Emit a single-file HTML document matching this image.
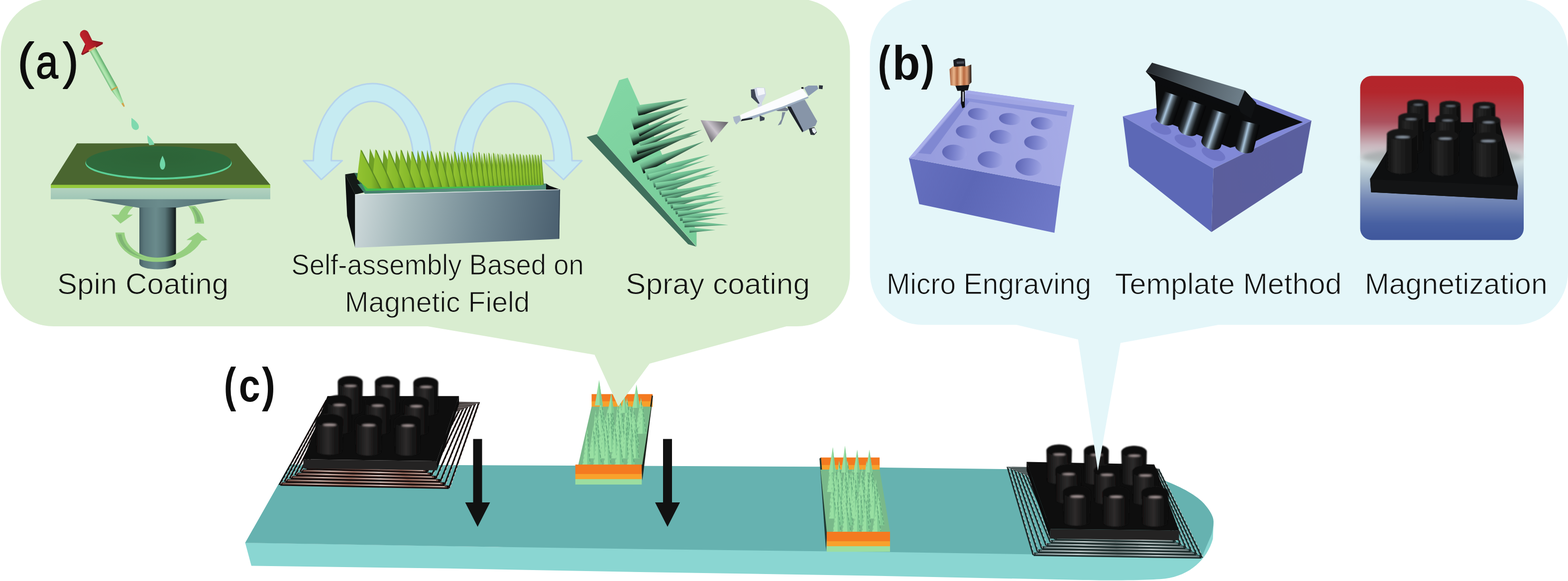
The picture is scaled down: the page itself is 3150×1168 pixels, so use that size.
<!DOCTYPE html>
<html lang="en"><head><meta charset="utf-8"><title>Figure</title>
<style>
html,body{margin:0;padding:0;background:#fff;}
body{width:3150px;height:1168px;overflow:hidden;}
svg{display:block;}
text{font-family:"Liberation Sans",sans-serif;}
</style></head><body>
<svg width="3150" height="1168" viewBox="0 0 3150 1168">
<defs>
<linearGradient id="cpg" x1="0" x2="1" y1="0" y2="0">
<stop offset="0" stop-color="#0c0c0c"/><stop offset="0.2" stop-color="#1d1c1c"/><stop offset="0.45" stop-color="#2e2c2c"/><stop offset="0.7" stop-color="#181717"/><stop offset="1" stop-color="#0a0a0a"/></linearGradient>
<linearGradient id="coilha" x1="0" x2="1" y1="0" y2="0">
<stop offset="0" stop-color="#7a5a50"/><stop offset="0.2" stop-color="#e8d8d0"/><stop offset="0.4" stop-color="#a87868"/><stop offset="0.6" stop-color="#f4ece8"/><stop offset="0.8" stop-color="#9a6a5a"/><stop offset="1" stop-color="#d8c8c0"/></linearGradient>
<linearGradient id="coilhb" x1="0" x2="1" y1="0" y2="0">
<stop offset="0" stop-color="#8a9a9a"/><stop offset="0.25" stop-color="#e8eeee"/><stop offset="0.5" stop-color="#6a7070"/><stop offset="0.75" stop-color="#dde4e4"/><stop offset="1" stop-color="#808a8a"/></linearGradient>
<linearGradient id="colg" x1="0" x2="1" y1="0" y2="0">
<stop offset="0" stop-color="#465e63"/><stop offset="0.12" stop-color="#5a777b"/><stop offset="0.45" stop-color="#6a8b8c"/><stop offset="0.7" stop-color="#587578"/><stop offset="0.9" stop-color="#2a3a3c"/><stop offset="1" stop-color="#0f1616"/></linearGradient>
<linearGradient id="coneg" x1="0" x2="1" y1="0" y2="0">
<stop offset="0" stop-color="#4d676b"/><stop offset="0.5" stop-color="#6a8b8c"/><stop offset="0.8" stop-color="#5a787b"/><stop offset="1" stop-color="#3d5357"/></linearGradient>
<linearGradient id="slabg" x1="0" x2="0" y1="0" y2="1">
<stop offset="0" stop-color="#b4d2c0"/><stop offset="1" stop-color="#9fc6b6"/></linearGradient>
<linearGradient id="tubeg" x1="0" x2="1" y1="0" y2="0">
<stop offset="0" stop-color="#6fb87a"/><stop offset="0.3" stop-color="#b6e8b4"/><stop offset="0.6" stop-color="#9edc9f"/><stop offset="1" stop-color="#5da96a"/></linearGradient>
<linearGradient id="bulbg" x1="0" x2="1" y1="0" y2="0">
<stop offset="0" stop-color="#c8252f"/><stop offset="0.5" stop-color="#b81f28"/><stop offset="1" stop-color="#8c1820"/></linearGradient>
<radialGradient id="discg" cx="0.5" cy="0.35" r="0.7">
<stop offset="0" stop-color="#2d6337"/><stop offset="1" stop-color="#2f6a3c"/></radialGradient>
<linearGradient id="boxf" gradientUnits="userSpaceOnUse" x1="713" y1="400" x2="1125" y2="470">
<stop offset="0" stop-color="#cfdadb"/><stop offset="0.25" stop-color="#a3b7ba"/><stop offset="0.6" stop-color="#748b95"/><stop offset="1" stop-color="#4a5f6f"/></linearGradient>
<linearGradient id="rimg" gradientUnits="userSpaceOnUse" x1="713" y1="0" x2="1125" y2="0">
<stop offset="0" stop-color="#3f7d68"/><stop offset="0.5" stop-color="#5a8f7f"/><stop offset="1" stop-color="#4f8f7a"/></linearGradient>
<linearGradient id="grassg" x1="0" x2="1" y1="0" y2="0">
<stop offset="0" stop-color="#93c332"/><stop offset="0.6" stop-color="#86b92a"/><stop offset="1" stop-color="#5f8f22"/></linearGradient>
<linearGradient id="coneU" x1="0" x2="0" y1="0" y2="1">
<stop offset="0" stop-color="#86d8a6"/><stop offset="0.45" stop-color="#63a781"/><stop offset="0.8" stop-color="#1a2d24"/><stop offset="1" stop-color="#050807"/></linearGradient>
<linearGradient id="coneL" x1="0" x2="0" y1="0" y2="1">
<stop offset="0" stop-color="#8adcaa"/><stop offset="0.5" stop-color="#6fbd91"/><stop offset="1" stop-color="#2f5946"/></linearGradient>
<linearGradient id="gcone" gradientUnits="userSpaceOnUse" x1="1412" y1="270" x2="1452" y2="238">
<stop offset="0" stop-color="#5e5c62"/><stop offset="0.45" stop-color="#c9c3cb"/><stop offset="0.75" stop-color="#8d8990"/><stop offset="1" stop-color="#6b686e"/></linearGradient>
<linearGradient id="plateg" gradientUnits="userSpaceOnUse" x1="1200" y1="200" x2="1400" y2="480">
<stop offset="0" stop-color="#82d6a4"/><stop offset="1" stop-color="#78cc99"/></linearGradient>
<linearGradient id="pfront" gradientUnits="userSpaceOnUse" x1="1830" y1="330" x2="2120" y2="460">
<stop offset="0" stop-color="#6670bf"/><stop offset="0.4" stop-color="#5c67b6"/><stop offset="1" stop-color="#6f79c8"/></linearGradient>
<linearGradient id="ptop" gradientUnits="userSpaceOnUse" x1="1850" y1="300" x2="2150" y2="250">
<stop offset="0" stop-color="#969cdd"/><stop offset="1" stop-color="#a6abe6"/></linearGradient>
<linearGradient id="hole" x1="0" x2="1" y1="0" y2="0">
<stop offset="0" stop-color="#5d65b4"/><stop offset="0.5" stop-color="#7b83cd"/><stop offset="1" stop-color="#9fa5e3"/></linearGradient>
<linearGradient id="copper" x1="0" x2="1" y1="0" y2="0">
<stop offset="0" stop-color="#a8623f"/><stop offset="0.2" stop-color="#e9b48a"/><stop offset="0.35" stop-color="#b5683f"/><stop offset="0.5" stop-color="#f0c59c"/><stop offset="0.65" stop-color="#b8693f"/><stop offset="0.8" stop-color="#d99a72"/><stop offset="1" stop-color="#1a1210"/></linearGradient>
<filter id="b2" x="-30%" y="-60%" width="160%" height="220%"><feGaussianBlur stdDeviation="1.6"/></filter>
<filter id="b0" x="-5%" y="-5%" width="110%" height="110%"><feGaussianBlur stdDeviation="0.6"/></filter>
<filter id="b1" x="-10%" y="-10%" width="120%" height="120%"><feGaussianBlur stdDeviation="0.9"/></filter>
<linearGradient id="pilg" x1="0" x2="1" y1="0" y2="0">
<stop offset="0" stop-color="#0d0d0d"/><stop offset="0.3" stop-color="#262626"/><stop offset="0.55" stop-color="#1c1c1c"/><stop offset="1" stop-color="#0a0a0a"/></linearGradient>
<linearGradient id="lidg" gradientUnits="userSpaceOnUse" x1="2305" y1="140" x2="2500" y2="190">
<stop offset="0" stop-color="#23272b"/><stop offset="0.45" stop-color="#4d5860"/><stop offset="1" stop-color="#6f808b"/></linearGradient>
<linearGradient id="cylg" x1="0" x2="1" y1="0" y2="0">
<stop offset="0" stop-color="#0a0b0c"/><stop offset="0.25" stop-color="#3a434b"/><stop offset="0.42" stop-color="#a8c4dc"/><stop offset="0.55" stop-color="#5a6872"/><stop offset="0.75" stop-color="#15181a"/><stop offset="1" stop-color="#050506"/></linearGradient>
<linearGradient id="tright" gradientUnits="userSpaceOnUse" x1="2440" y1="340" x2="2630" y2="300">
<stop offset="0" stop-color="#5b5e9c"/><stop offset="1" stop-color="#5a5f9f"/></linearGradient>
<linearGradient id="magbg" x1="0" x2="0" y1="0" y2="1">
<stop offset="0" stop-color="#b4242a"/><stop offset="0.1" stop-color="#b3262c"/><stop offset="0.28" stop-color="#ab505d"/><stop offset="0.42" stop-color="#c9b4bb"/><stop offset="0.52" stop-color="#d3e0e2"/><stop offset="0.62" stop-color="#a9bccb"/><stop offset="0.75" stop-color="#7488b6"/><stop offset="0.9" stop-color="#4760a2"/><stop offset="1" stop-color="#3f579c"/></linearGradient>
<filter id="b3" x="-20%" y="-50%" width="140%" height="200%"><feGaussianBlur stdDeviation="4"/></filter>
</defs>
<rect width="3150" height="1168" fill="#ffffff"/>
<path fill="#8ad6d2" d="M492.5,1091 L505,1137.4 L900,1142.8 L1300,1150.2 L1740,1157.2 L2150,1165.5 C2250,1167.5 2310,1166.5 2341,1163.3 C2390,1157 2425,1125 2436.6,1083.3 L2438,1047.5 L2300,1045 L1000,1099.6 L492.5,1091 Z"/>
<path fill="#66b2b0" d="M582,933.5 L1650,938.2 L2200,945.5 C2260,948 2310,955 2345.8,968.7 C2380,982 2410,1000 2422.2,1016.4 C2432,1028 2438,1040 2437.8,1047.5 C2438,1058 2436,1066 2434.2,1073.7 L2419.9,1107.2 L2413.9,1121.5 L2150,1115.5 L1740,1109.2 L1300,1104 L900,1098 L492.5,1091.2 Z"/>
<path fill="#111" d="M950.5,882.5 H968.5 V1010 H984.5 L959.5,1059 L934.5,1010 H950.5 Z"/>
<path fill="#111" d="M1332,882.5 H1350 V1010 H1366 L1341,1059 L1316,1010 H1332 Z"/>
<g filter="url(#b0)"><polygon points="562.2,973.0 902.5,979.5 961.9,810.1 655.2,805.4" fill="none" stroke="#15100f" stroke-width="3.4" stroke-linejoin="miter"/><polygon points="572.7,966.5 893.9,973.0 954.0,813.2 658.2,808.5" fill="none" stroke="#15100f" stroke-width="3.4" stroke-linejoin="miter"/><polygon points="583.2,960.0 885.3,966.5 946.1,816.3 661.2,811.6" fill="none" stroke="#15100f" stroke-width="3.4" stroke-linejoin="miter"/><polygon points="593.7,953.5 876.7,960.0 938.2,819.4 664.2,814.7" fill="none" stroke="#15100f" stroke-width="3.4" stroke-linejoin="miter"/><polygon points="604.2,947.0 868.1,953.5 930.3,822.5 667.2,817.8" fill="none" stroke="#15100f" stroke-width="3.4" stroke-linejoin="miter"/><polygon points="614.7,940.5 859.5,947.0 922.4,825.6 670.2,820.9" fill="none" stroke="#15100f" stroke-width="3.4" stroke-linejoin="miter"/><line x1="563.2" y1="973.0" x2="901.5" y2="979.5" stroke="#15100f" stroke-width="7"/><line x1="567.2" y1="972.2" x2="897.5" y2="978.7" stroke="#6e4a42" stroke-width="3.4"/><line x1="571.2" y1="971.8" x2="893.5" y2="978.3" stroke="url(#coilha)" stroke-width="1.7"/><line x1="904.4" y1="979.5" x2="963.8" y2="810.1" stroke="#f0e4e0" stroke-width="1.2" stroke-dasharray="5 4" opacity="0.8"/><line x1="564.1" y1="973.0" x2="657.1" y2="805.4" stroke="#f0e4e0" stroke-width="1.2" stroke-dasharray="5 4" opacity="0.8"/><line x1="655.2" y1="805.7" x2="961.9" y2="810.4" stroke="#f0e4e0" stroke-width="1.0" opacity="0.8"/><line x1="573.7" y1="966.5" x2="892.9" y2="973.0" stroke="#15100f" stroke-width="7"/><line x1="577.7" y1="965.7" x2="888.9" y2="972.2" stroke="#6e4a42" stroke-width="3.4"/><line x1="581.7" y1="965.3" x2="884.9" y2="971.8" stroke="url(#coilha)" stroke-width="1.7"/><line x1="895.8" y1="973.0" x2="955.9" y2="813.2" stroke="#f0e4e0" stroke-width="1.2" stroke-dasharray="5 4" opacity="0.8"/><line x1="574.6" y1="966.5" x2="660.1" y2="808.5" stroke="#f0e4e0" stroke-width="1.2" stroke-dasharray="5 4" opacity="0.8"/><line x1="658.2" y1="808.8" x2="954.0" y2="813.5" stroke="#f0e4e0" stroke-width="1.0" opacity="0.8"/><line x1="584.2" y1="960.0" x2="884.3" y2="966.5" stroke="#15100f" stroke-width="7"/><line x1="588.2" y1="959.2" x2="880.3" y2="965.7" stroke="#6e4a42" stroke-width="3.4"/><line x1="592.2" y1="958.8" x2="876.3" y2="965.3" stroke="url(#coilha)" stroke-width="1.7"/><line x1="887.2" y1="966.5" x2="948.0" y2="816.3" stroke="#f0e4e0" stroke-width="1.2" stroke-dasharray="5 4" opacity="0.8"/><line x1="585.1" y1="960.0" x2="663.1" y2="811.6" stroke="#f0e4e0" stroke-width="1.2" stroke-dasharray="5 4" opacity="0.8"/><line x1="661.2" y1="811.9" x2="946.1" y2="816.6" stroke="#f0e4e0" stroke-width="1.0" opacity="0.8"/><line x1="594.7" y1="953.5" x2="875.7" y2="960.0" stroke="#15100f" stroke-width="7"/><line x1="598.7" y1="952.7" x2="871.7" y2="959.2" stroke="#6e4a42" stroke-width="3.4"/><line x1="602.7" y1="952.3" x2="867.7" y2="958.8" stroke="url(#coilha)" stroke-width="1.7"/><line x1="878.6" y1="960.0" x2="940.1" y2="819.4" stroke="#f0e4e0" stroke-width="1.2" stroke-dasharray="5 4" opacity="0.8"/><line x1="595.6" y1="953.5" x2="666.1" y2="814.7" stroke="#f0e4e0" stroke-width="1.2" stroke-dasharray="5 4" opacity="0.8"/><line x1="664.2" y1="815.0" x2="938.2" y2="819.7" stroke="#f0e4e0" stroke-width="1.0" opacity="0.8"/><line x1="605.2" y1="947.0" x2="867.1" y2="953.5" stroke="#15100f" stroke-width="7"/><line x1="609.2" y1="946.2" x2="863.1" y2="952.7" stroke="#6e4a42" stroke-width="3.4"/><line x1="613.2" y1="945.8" x2="859.1" y2="952.3" stroke="url(#coilha)" stroke-width="1.7"/><line x1="870.0" y1="953.5" x2="932.2" y2="822.5" stroke="#f0e4e0" stroke-width="1.2" stroke-dasharray="5 4" opacity="0.8"/><line x1="606.1" y1="947.0" x2="669.1" y2="817.8" stroke="#f0e4e0" stroke-width="1.2" stroke-dasharray="5 4" opacity="0.8"/><line x1="667.2" y1="818.1" x2="930.3" y2="822.8" stroke="#f0e4e0" stroke-width="1.0" opacity="0.8"/><line x1="615.7" y1="940.5" x2="858.5" y2="947.0" stroke="#15100f" stroke-width="7"/><line x1="619.7" y1="939.7" x2="854.5" y2="946.2" stroke="#6e4a42" stroke-width="3.4"/><line x1="623.7" y1="939.3" x2="850.5" y2="945.8" stroke="url(#coilha)" stroke-width="1.7"/><line x1="861.4" y1="947.0" x2="924.3" y2="825.6" stroke="#f0e4e0" stroke-width="1.2" stroke-dasharray="5 4" opacity="0.8"/><line x1="616.6" y1="940.5" x2="672.1" y2="820.9" stroke="#f0e4e0" stroke-width="1.2" stroke-dasharray="5 4" opacity="0.8"/><line x1="670.2" y1="821.2" x2="922.4" y2="825.9" stroke="#f0e4e0" stroke-width="1.0" opacity="0.8"/></g>
<polygon points="609.4,923.2 877.7,927.1 922.1,796.3 657.8,796.3" fill="#0e0e0e" />
<polygon points="609.4,923.2 877.7,927.1 877.7,945.4 609.4,941.5" fill="#242323" />
<polygon points="877.7,927.1 922.1,796.3 922.1,812.7 877.7,945.4" fill="#0b0b0b" />
<g filter="url(#b1)">
<path d="M678.5,767.5 A25.1 11.8 0 0 1 728.7,767.5 L727.7,826.4 A24.1 6.5 0 0 1 679.5,826.4 Z" fill="url(#cpg)"/><ellipse cx="703.6" cy="767.5" rx="24.4" ry="11.2" fill="#101010"/><ellipse cx="704.1" cy="775.8" rx="12.6" ry="2.1" fill="#b5a5a5" filter="url(#b2)"/>
<path d="M753.1,768.0 A25.1 11.8 0 0 1 803.3,768.0 L802.3,827.7 A24.1 6.5 0 0 1 754.1,827.7 Z" fill="url(#cpg)"/><ellipse cx="778.2" cy="768.0" rx="24.4" ry="11.2" fill="#101010"/><ellipse cx="778.7" cy="776.3" rx="12.6" ry="2.1" fill="#b5a5a5" filter="url(#b2)"/>
<path d="M830.3,769.6 A25.1 11.8 0 0 1 880.5,769.6 L879.5,829.0 A24.1 6.5 0 0 1 831.3,829.0 Z" fill="url(#cpg)"/><ellipse cx="855.4" cy="769.6" rx="24.4" ry="11.2" fill="#101010"/><ellipse cx="855.9" cy="777.9" rx="12.6" ry="2.1" fill="#b5a5a5" filter="url(#b2)"/>
<path d="M655.7,805.7 A25.7 12.1 0 0 1 707.0,805.7 L705.9,865.6 A24.6 6.6 0 0 1 656.7,865.6 Z" fill="url(#cpg)"/><ellipse cx="681.3" cy="805.7" rx="24.9" ry="11.5" fill="#101010"/><ellipse cx="681.9" cy="814.2" rx="12.8" ry="2.2" fill="#b5a5a5" filter="url(#b2)"/>
<path d="M732.9,807.0 A25.7 12.1 0 0 1 784.2,807.0 L783.2,866.9 A24.6 6.6 0 0 1 734.0,866.9 Z" fill="url(#cpg)"/><ellipse cx="758.6" cy="807.0" rx="24.9" ry="11.5" fill="#101010"/><ellipse cx="759.1" cy="815.5" rx="12.8" ry="2.2" fill="#b5a5a5" filter="url(#b2)"/>
<path d="M810.1,808.3 A25.7 12.1 0 0 1 861.4,808.3 L860.4,868.3 A24.6 6.6 0 0 1 811.2,868.3 Z" fill="url(#cpg)"/><ellipse cx="835.8" cy="808.3" rx="24.9" ry="11.5" fill="#101010"/><ellipse cx="836.3" cy="816.8" rx="12.8" ry="2.2" fill="#b5a5a5" filter="url(#b2)"/>
<path d="M633.4,844.9 A28.3 13.3 0 0 1 690.0,844.9 L687.4,907.5 A25.7 7.3 0 0 1 636.1,907.5 Z" fill="url(#cpg)"/><ellipse cx="661.7" cy="844.9" rx="27.4" ry="12.6" fill="#101010"/><ellipse cx="662.3" cy="854.2" rx="14.1" ry="2.4" fill="#b5a5a5" filter="url(#b2)"/>
<path d="M712.8,845.8 A27.5 12.9 0 0 1 767.7,845.8 L765.4,908.8 A25.1 7.1 0 0 1 715.1,908.8 Z" fill="url(#cpg)"/><ellipse cx="740.2" cy="845.8" rx="26.7" ry="12.3" fill="#101010"/><ellipse cx="740.8" cy="854.9" rx="13.7" ry="2.3" fill="#b5a5a5" filter="url(#b2)"/>
<path d="M792.1,846.8 A26.7 12.5 0 0 1 845.5,846.8 L843.6,909.6 A24.9 6.9 0 0 1 793.9,909.6 Z" fill="url(#cpg)"/><ellipse cx="818.8" cy="846.8" rx="25.9" ry="11.9" fill="#101010"/><ellipse cx="819.3" cy="855.6" rx="13.3" ry="2.3" fill="#b5a5a5" filter="url(#b2)"/>
</g>
<g filter="url(#b0)"><polygon points="2075.4,1114.3 2414.4,1119.5 2328.0,944.1 2024.4,940.2" fill="none" stroke="#1c2a2a" stroke-width="3.4" stroke-linejoin="miter"/><polygon points="2084.0,1108.0 2403.7,1113.2 2325.0,947.2 2031.9,943.3" fill="none" stroke="#1c2a2a" stroke-width="3.4" stroke-linejoin="miter"/><polygon points="2092.6,1101.7 2393.0,1106.9 2322.0,950.3 2039.4,946.4" fill="none" stroke="#1c2a2a" stroke-width="3.4" stroke-linejoin="miter"/><polygon points="2101.2,1095.4 2382.3,1100.6 2319.0,953.4 2046.9,949.5" fill="none" stroke="#1c2a2a" stroke-width="3.4" stroke-linejoin="miter"/><polygon points="2109.8,1089.1 2371.6,1094.3 2316.0,956.5 2054.4,952.6" fill="none" stroke="#1c2a2a" stroke-width="3.4" stroke-linejoin="miter"/><polygon points="2118.4,1082.8 2360.9,1088.0 2313.0,959.6 2061.9,955.7" fill="none" stroke="#1c2a2a" stroke-width="3.4" stroke-linejoin="miter"/><line x1="2076.4" y1="1114.3" x2="2413.4" y2="1119.5" stroke="#1c2a2a" stroke-width="7"/><line x1="2080.4" y1="1113.5" x2="2409.4" y2="1118.7" stroke="#5f7474" stroke-width="3.4"/><line x1="2084.4" y1="1113.1" x2="2405.4" y2="1118.3" stroke="url(#coilhb)" stroke-width="1.7"/><line x1="2416.3" y1="1119.5" x2="2329.9" y2="944.1" stroke="#e4ecec" stroke-width="1.2" stroke-dasharray="5 4" opacity="0.8"/><line x1="2077.3" y1="1114.3" x2="2026.3" y2="940.2" stroke="#e4ecec" stroke-width="1.2" stroke-dasharray="5 4" opacity="0.8"/><line x1="2024.4" y1="940.5" x2="2328.0" y2="944.4" stroke="#e4ecec" stroke-width="1.0" opacity="0.8"/><line x1="2085.0" y1="1108.0" x2="2402.7" y2="1113.2" stroke="#1c2a2a" stroke-width="7"/><line x1="2089.0" y1="1107.2" x2="2398.7" y2="1112.4" stroke="#5f7474" stroke-width="3.4"/><line x1="2093.0" y1="1106.8" x2="2394.7" y2="1112.0" stroke="url(#coilhb)" stroke-width="1.7"/><line x1="2405.6" y1="1113.2" x2="2326.9" y2="947.2" stroke="#e4ecec" stroke-width="1.2" stroke-dasharray="5 4" opacity="0.8"/><line x1="2085.9" y1="1108.0" x2="2033.8" y2="943.3" stroke="#e4ecec" stroke-width="1.2" stroke-dasharray="5 4" opacity="0.8"/><line x1="2031.9" y1="943.6" x2="2325.0" y2="947.5" stroke="#e4ecec" stroke-width="1.0" opacity="0.8"/><line x1="2093.6" y1="1101.7" x2="2392.0" y2="1106.9" stroke="#1c2a2a" stroke-width="7"/><line x1="2097.6" y1="1100.9" x2="2388.0" y2="1106.1" stroke="#5f7474" stroke-width="3.4"/><line x1="2101.6" y1="1100.5" x2="2384.0" y2="1105.7" stroke="url(#coilhb)" stroke-width="1.7"/><line x1="2394.9" y1="1106.9" x2="2323.9" y2="950.3" stroke="#e4ecec" stroke-width="1.2" stroke-dasharray="5 4" opacity="0.8"/><line x1="2094.5" y1="1101.7" x2="2041.3" y2="946.4" stroke="#e4ecec" stroke-width="1.2" stroke-dasharray="5 4" opacity="0.8"/><line x1="2039.4" y1="946.7" x2="2322.0" y2="950.6" stroke="#e4ecec" stroke-width="1.0" opacity="0.8"/><line x1="2102.2" y1="1095.4" x2="2381.3" y2="1100.6" stroke="#1c2a2a" stroke-width="7"/><line x1="2106.2" y1="1094.6" x2="2377.3" y2="1099.8" stroke="#5f7474" stroke-width="3.4"/><line x1="2110.2" y1="1094.2" x2="2373.3" y2="1099.4" stroke="url(#coilhb)" stroke-width="1.7"/><line x1="2384.2" y1="1100.6" x2="2320.9" y2="953.4" stroke="#e4ecec" stroke-width="1.2" stroke-dasharray="5 4" opacity="0.8"/><line x1="2103.1" y1="1095.4" x2="2048.8" y2="949.5" stroke="#e4ecec" stroke-width="1.2" stroke-dasharray="5 4" opacity="0.8"/><line x1="2046.9" y1="949.8" x2="2319.0" y2="953.7" stroke="#e4ecec" stroke-width="1.0" opacity="0.8"/><line x1="2110.8" y1="1089.1" x2="2370.6" y2="1094.3" stroke="#1c2a2a" stroke-width="7"/><line x1="2114.8" y1="1088.3" x2="2366.6" y2="1093.5" stroke="#5f7474" stroke-width="3.4"/><line x1="2118.8" y1="1087.9" x2="2362.6" y2="1093.1" stroke="url(#coilhb)" stroke-width="1.7"/><line x1="2373.5" y1="1094.3" x2="2317.9" y2="956.5" stroke="#e4ecec" stroke-width="1.2" stroke-dasharray="5 4" opacity="0.8"/><line x1="2111.7" y1="1089.1" x2="2056.3" y2="952.6" stroke="#e4ecec" stroke-width="1.2" stroke-dasharray="5 4" opacity="0.8"/><line x1="2054.4" y1="952.9" x2="2316.0" y2="956.8" stroke="#e4ecec" stroke-width="1.0" opacity="0.8"/><line x1="2119.4" y1="1082.8" x2="2359.9" y2="1088.0" stroke="#1c2a2a" stroke-width="7"/><line x1="2123.4" y1="1082.0" x2="2355.9" y2="1087.2" stroke="#5f7474" stroke-width="3.4"/><line x1="2127.4" y1="1081.6" x2="2351.9" y2="1086.8" stroke="url(#coilhb)" stroke-width="1.7"/><line x1="2362.8" y1="1088.0" x2="2314.9" y2="959.6" stroke="#e4ecec" stroke-width="1.2" stroke-dasharray="5 4" opacity="0.8"/><line x1="2120.3" y1="1082.8" x2="2063.8" y2="955.7" stroke="#e4ecec" stroke-width="1.2" stroke-dasharray="5 4" opacity="0.8"/><line x1="2061.9" y1="956.0" x2="2313.0" y2="959.9" stroke="#e4ecec" stroke-width="1.0" opacity="0.8"/></g>
<polygon points="2109.5,1063.2 2368.6,1066.4 2318.9,933.7 2062.3,928.4" fill="#0e0e0e" />
<polygon points="2109.5,1063.2 2368.6,1066.4 2368.6,1085.9 2109.5,1082.7" fill="#242323" />
<polygon points="2109.5,1063.2 2062.3,928.4 2062.3,946.0 2109.5,1082.7" fill="#0b0b0b" />
<g filter="url(#b1)">
<path d="M2102.1,905.1 A25.7 12.1 0 0 1 2153.4,905.1 L2151.9,966.4 A24.1 6.6 0 0 1 2103.7,966.4 Z" fill="url(#cpg)"/><ellipse cx="2127.8" cy="905.1" rx="24.9" ry="11.5" fill="#101010"/><ellipse cx="2128.3" cy="913.6" rx="12.8" ry="2.2" fill="#b5a5a5" filter="url(#b2)"/>
<path d="M2177.3,906.2 A25.1 11.8 0 0 1 2227.5,906.2 L2226.5,967.7 A24.1 6.5 0 0 1 2178.3,967.7 Z" fill="url(#cpg)"/><ellipse cx="2202.4" cy="906.2" rx="24.4" ry="11.2" fill="#101010"/><ellipse cx="2202.9" cy="914.5" rx="12.6" ry="2.1" fill="#b5a5a5" filter="url(#b2)"/>
<path d="M2252.6,907.8 A25.7 12.1 0 0 1 2303.9,907.8 L2302.4,969.0 A24.1 6.6 0 0 1 2254.2,969.0 Z" fill="url(#cpg)"/><ellipse cx="2278.3" cy="907.8" rx="24.9" ry="11.5" fill="#101010"/><ellipse cx="2278.8" cy="916.2" rx="12.8" ry="2.2" fill="#b5a5a5" filter="url(#b2)"/>
<path d="M2119.9,944.7 A26.2 12.3 0 0 1 2172.3,944.7 L2170.7,1005.6 A24.6 6.8 0 0 1 2121.5,1005.6 Z" fill="url(#cpg)"/><ellipse cx="2146.1" cy="944.7" rx="25.4" ry="11.7" fill="#101010"/><ellipse cx="2146.6" cy="953.3" rx="13.1" ry="2.2" fill="#b5a5a5" filter="url(#b2)"/>
<path d="M2197.1,946.0 A26.2 12.3 0 0 1 2249.5,946.0 L2247.9,1006.9 A24.6 6.8 0 0 1 2198.7,1006.9 Z" fill="url(#cpg)"/><ellipse cx="2223.3" cy="946.0" rx="25.4" ry="11.7" fill="#101010"/><ellipse cx="2223.8" cy="954.6" rx="13.1" ry="2.2" fill="#b5a5a5" filter="url(#b2)"/>
<path d="M2274.4,947.3 A26.2 12.3 0 0 1 2326.7,947.3 L2325.1,1008.3 A24.6 6.8 0 0 1 2275.9,1008.3 Z" fill="url(#cpg)"/><ellipse cx="2300.5" cy="947.3" rx="25.4" ry="11.7" fill="#101010"/><ellipse cx="2301.1" cy="955.9" rx="13.1" ry="2.2" fill="#b5a5a5" filter="url(#b2)"/>
<path d="M2134.9,988.8 A28.3 13.3 0 0 1 2191.4,988.8 L2188.8,1050.1 A25.7 7.3 0 0 1 2137.5,1050.1 Z" fill="url(#cpg)"/><ellipse cx="2163.1" cy="988.8" rx="27.4" ry="12.6" fill="#101010"/><ellipse cx="2163.7" cy="998.2" rx="14.1" ry="2.4" fill="#b5a5a5" filter="url(#b2)"/>
<path d="M2214.2,989.8 A27.5 12.9 0 0 1 2269.1,989.8 L2266.8,1051.4 A25.1 7.1 0 0 1 2216.5,1051.4 Z" fill="url(#cpg)"/><ellipse cx="2241.6" cy="989.8" rx="26.7" ry="12.3" fill="#101010"/><ellipse cx="2242.2" cy="998.8" rx="13.7" ry="2.3" fill="#b5a5a5" filter="url(#b2)"/>
<path d="M2292.7,990.3 A27.5 12.9 0 0 1 2347.7,990.3 L2345.3,1051.4 A25.1 7.1 0 0 1 2295.0,1051.4 Z" fill="url(#cpg)"/><ellipse cx="2320.2" cy="990.3" rx="26.7" ry="12.3" fill="#101010"/><ellipse cx="2320.7" cy="999.4" rx="13.7" ry="2.3" fill="#b5a5a5" filter="url(#b2)"/>
</g>
<rect x="1188.5" y="792.3" width="122.5" height="14.900000000000091" fill="#f47a20"/>
<rect x="1188.5" y="806.7" width="122.5" height="11.399999999999977" fill="#f8a12c"/>
<polygon points="1309.5,794.3 1311.8,796.3 1290.4,966.1 1288.2,933.9" fill="#1c241d" />
<polygon points="1188.5,817.6 1308.0,817.6 1290.2,933.9 1161.8,933.9" fill="#79b98a" />
<g><polygon points="1198.2,859.5 1207.9,799.6 1216.9,859.5" fill="#98dfa2" /><polygon points="1209.0,859.5 1207.9,799.6 1216.9,859.5" fill="#7fca92" /><line x1="1208.4" y1="808.6" x2="1216.0" y2="858.5" stroke="#4a8a68" stroke-width="1.3" stroke-dasharray="6 4" opacity="0.7"/><line x1="1207.4" y1="817.6" x2="1199.1" y2="858.5" stroke="#5c9c78" stroke-width="1.0" stroke-dasharray="4 5" opacity="0.5"/><polygon points="1218.6,859.5 1227.3,799.6 1234.8,859.5" fill="#98dfa2" /><polygon points="1228.0,859.5 1227.3,799.6 1234.8,859.5" fill="#7fca92" /><line x1="1227.8" y1="808.6" x2="1234.0" y2="858.5" stroke="#4a8a68" stroke-width="1.3" stroke-dasharray="6 4" opacity="0.7"/><line x1="1226.8" y1="817.6" x2="1219.5" y2="858.5" stroke="#5c9c78" stroke-width="1.0" stroke-dasharray="4 5" opacity="0.5"/><polygon points="1238.5,859.5 1245.9,799.6 1254.3,859.5" fill="#98dfa2" /><polygon points="1247.7,859.5 1245.9,799.6 1254.3,859.5" fill="#7fca92" /><line x1="1246.4" y1="808.6" x2="1253.5" y2="858.5" stroke="#4a8a68" stroke-width="1.3" stroke-dasharray="6 4" opacity="0.7"/><line x1="1245.4" y1="817.6" x2="1239.3" y2="858.5" stroke="#5c9c78" stroke-width="1.0" stroke-dasharray="4 5" opacity="0.5"/><polygon points="1252.2,859.5 1259.3,799.6 1270.1,859.5" fill="#98dfa2" /><polygon points="1262.6,859.5 1259.3,799.6 1270.1,859.5" fill="#7fca92" /><line x1="1259.8" y1="808.6" x2="1269.2" y2="858.5" stroke="#4a8a68" stroke-width="1.3" stroke-dasharray="6 4" opacity="0.7"/><line x1="1258.8" y1="817.6" x2="1253.1" y2="858.5" stroke="#5c9c78" stroke-width="1.0" stroke-dasharray="4 5" opacity="0.5"/><polygon points="1277.7,859.5 1287.7,799.6 1295.5,859.5" fill="#98dfa2" /><polygon points="1288.0,859.5 1287.7,799.6 1295.5,859.5" fill="#7fca92" /><line x1="1288.2" y1="808.6" x2="1294.6" y2="858.5" stroke="#4a8a68" stroke-width="1.3" stroke-dasharray="6 4" opacity="0.7"/><line x1="1287.2" y1="817.6" x2="1278.6" y2="858.5" stroke="#5c9c78" stroke-width="1.0" stroke-dasharray="4 5" opacity="0.5"/><polygon points="1198.0,871.9 1205.0,815.8 1215.4,871.9" fill="#98dfa2" /><polygon points="1208.1,871.9 1205.0,815.8 1215.4,871.9" fill="#7fca92" /><line x1="1205.5" y1="824.2" x2="1214.5" y2="870.9" stroke="#4a8a68" stroke-width="1.3" stroke-dasharray="6 4" opacity="0.7"/><line x1="1204.5" y1="832.6" x2="1198.9" y2="870.9" stroke="#5c9c78" stroke-width="1.0" stroke-dasharray="4 5" opacity="0.5"/><polygon points="1218.2,871.9 1226.3,813.6 1233.8,871.9" fill="#98dfa2" /><polygon points="1227.2,871.9 1226.3,813.6 1233.8,871.9" fill="#7fca92" /><line x1="1226.8" y1="822.3" x2="1233.0" y2="870.9" stroke="#4a8a68" stroke-width="1.3" stroke-dasharray="6 4" opacity="0.7"/><line x1="1225.8" y1="831.1" x2="1219.0" y2="870.9" stroke="#5c9c78" stroke-width="1.0" stroke-dasharray="4 5" opacity="0.5"/><polygon points="1238.3,871.9 1248.1,813.6 1255.6,871.9" fill="#98dfa2" /><polygon points="1248.3,871.9 1248.1,813.6 1255.6,871.9" fill="#7fca92" /><line x1="1248.6" y1="822.3" x2="1254.7" y2="870.9" stroke="#4a8a68" stroke-width="1.3" stroke-dasharray="6 4" opacity="0.7"/><line x1="1247.6" y1="831.1" x2="1239.2" y2="870.9" stroke="#5c9c78" stroke-width="1.0" stroke-dasharray="4 5" opacity="0.5"/><polygon points="1257.9,871.9 1265.8,813.6 1275.0,871.9" fill="#98dfa2" /><polygon points="1267.8,871.9 1265.8,813.6 1275.0,871.9" fill="#7fca92" /><line x1="1266.3" y1="822.3" x2="1274.1" y2="870.9" stroke="#4a8a68" stroke-width="1.3" stroke-dasharray="6 4" opacity="0.7"/><line x1="1265.3" y1="831.1" x2="1258.8" y2="870.9" stroke="#5c9c78" stroke-width="1.0" stroke-dasharray="4 5" opacity="0.5"/><polygon points="1280.1,871.9 1290.8,813.6 1298.5,871.9" fill="#98dfa2" /><polygon points="1290.8,871.9 1290.8,813.6 1298.5,871.9" fill="#7fca92" /><line x1="1291.3" y1="822.3" x2="1297.6" y2="870.9" stroke="#4a8a68" stroke-width="1.3" stroke-dasharray="6 4" opacity="0.7"/><line x1="1290.3" y1="831.1" x2="1281.0" y2="870.9" stroke="#5c9c78" stroke-width="1.0" stroke-dasharray="4 5" opacity="0.5"/><polygon points="1189.6,884.3 1196.2,824.4 1206.1,884.3" fill="#98dfa2" /><polygon points="1199.2,884.3 1196.2,824.4 1206.1,884.3" fill="#7fca92" /><line x1="1196.7" y1="833.4" x2="1205.3" y2="883.3" stroke="#4a8a68" stroke-width="1.3" stroke-dasharray="6 4" opacity="0.7"/><line x1="1195.7" y1="842.4" x2="1190.4" y2="883.3" stroke="#5c9c78" stroke-width="1.0" stroke-dasharray="4 5" opacity="0.5"/><polygon points="1211.4,884.3 1220.6,821.5 1229.9,884.3" fill="#98dfa2" /><polygon points="1222.1,884.3 1220.6,821.5 1229.9,884.3" fill="#7fca92" /><line x1="1221.1" y1="830.9" x2="1229.0" y2="883.3" stroke="#4a8a68" stroke-width="1.3" stroke-dasharray="6 4" opacity="0.7"/><line x1="1220.1" y1="840.3" x2="1212.4" y2="883.3" stroke="#5c9c78" stroke-width="1.0" stroke-dasharray="4 5" opacity="0.5"/><polygon points="1233.7,884.3 1240.5,813.7 1249.2,884.3" fill="#98dfa2" /><polygon points="1242.7,884.3 1240.5,813.7 1249.2,884.3" fill="#7fca92" /><line x1="1241.0" y1="824.3" x2="1248.5" y2="883.3" stroke="#4a8a68" stroke-width="1.3" stroke-dasharray="6 4" opacity="0.7"/><line x1="1240.0" y1="834.9" x2="1234.5" y2="883.3" stroke="#5c9c78" stroke-width="1.0" stroke-dasharray="4 5" opacity="0.5"/><polygon points="1251.0,884.3 1260.4,820.3 1269.9,884.3" fill="#98dfa2" /><polygon points="1262.0,884.3 1260.4,820.3 1269.9,884.3" fill="#7fca92" /><line x1="1260.9" y1="829.9" x2="1269.0" y2="883.3" stroke="#4a8a68" stroke-width="1.3" stroke-dasharray="6 4" opacity="0.7"/><line x1="1259.9" y1="839.5" x2="1251.9" y2="883.3" stroke="#5c9c78" stroke-width="1.0" stroke-dasharray="4 5" opacity="0.5"/><polygon points="1264.2,884.3 1272.6,817.5 1282.4,884.3" fill="#98dfa2" /><polygon points="1274.8,884.3 1272.6,817.5 1282.4,884.3" fill="#7fca92" /><line x1="1273.1" y1="827.5" x2="1281.5" y2="883.3" stroke="#4a8a68" stroke-width="1.3" stroke-dasharray="6 4" opacity="0.7"/><line x1="1272.1" y1="837.5" x2="1265.1" y2="883.3" stroke="#5c9c78" stroke-width="1.0" stroke-dasharray="4 5" opacity="0.5"/><polygon points="1188.2,896.7 1199.4,835.1 1207.0,896.7" fill="#98dfa2" /><polygon points="1199.1,896.7 1199.4,835.1 1207.0,896.7" fill="#7fca92" /><line x1="1199.9" y1="844.3" x2="1206.1" y2="895.7" stroke="#4a8a68" stroke-width="1.3" stroke-dasharray="6 4" opacity="0.7"/><line x1="1198.9" y1="853.5" x2="1189.1" y2="895.7" stroke="#5c9c78" stroke-width="1.0" stroke-dasharray="4 5" opacity="0.5"/><polygon points="1209.5,896.7 1215.8,836.6 1225.4,896.7" fill="#98dfa2" /><polygon points="1218.7,896.7 1215.8,836.6 1225.4,896.7" fill="#7fca92" /><line x1="1216.3" y1="845.6" x2="1224.6" y2="895.7" stroke="#4a8a68" stroke-width="1.3" stroke-dasharray="6 4" opacity="0.7"/><line x1="1215.3" y1="854.6" x2="1210.3" y2="895.7" stroke="#5c9c78" stroke-width="1.0" stroke-dasharray="4 5" opacity="0.5"/><polygon points="1233.7,896.7 1242.6,837.8 1251.1,896.7" fill="#98dfa2" /><polygon points="1243.8,896.7 1242.6,837.8 1251.1,896.7" fill="#7fca92" /><line x1="1243.1" y1="846.6" x2="1250.3" y2="895.7" stroke="#4a8a68" stroke-width="1.3" stroke-dasharray="6 4" opacity="0.7"/><line x1="1242.1" y1="855.4" x2="1234.5" y2="895.7" stroke="#5c9c78" stroke-width="1.0" stroke-dasharray="4 5" opacity="0.5"/><polygon points="1249.3,896.7 1258.5,828.1 1265.2,896.7" fill="#98dfa2" /><polygon points="1258.5,896.7 1258.5,828.1 1265.2,896.7" fill="#7fca92" /><line x1="1259.0" y1="838.4" x2="1264.4" y2="895.7" stroke="#4a8a68" stroke-width="1.3" stroke-dasharray="6 4" opacity="0.7"/><line x1="1258.0" y1="848.7" x2="1250.1" y2="895.7" stroke="#5c9c78" stroke-width="1.0" stroke-dasharray="4 5" opacity="0.5"/><polygon points="1268.2,896.7 1275.6,833.5 1284.4,896.7" fill="#98dfa2" /><polygon points="1277.6,896.7 1275.6,833.5 1284.4,896.7" fill="#7fca92" /><line x1="1276.1" y1="843.0" x2="1283.6" y2="895.7" stroke="#4a8a68" stroke-width="1.3" stroke-dasharray="6 4" opacity="0.7"/><line x1="1275.1" y1="852.5" x2="1269.0" y2="895.7" stroke="#5c9c78" stroke-width="1.0" stroke-dasharray="4 5" opacity="0.5"/><polygon points="1186.1,909.1 1196.8,839.2 1202.7,909.1" fill="#98dfa2" /><polygon points="1195.7,909.1 1196.8,839.2 1202.7,909.1" fill="#7fca92" /><line x1="1197.3" y1="849.7" x2="1201.8" y2="908.1" stroke="#4a8a68" stroke-width="1.3" stroke-dasharray="6 4" opacity="0.7"/><line x1="1196.3" y1="860.2" x2="1186.9" y2="908.1" stroke="#5c9c78" stroke-width="1.0" stroke-dasharray="4 5" opacity="0.5"/><polygon points="1199.0,909.1 1209.4,846.4 1217.5,909.1" fill="#98dfa2" /><polygon points="1209.7,909.1 1209.4,846.4 1217.5,909.1" fill="#7fca92" /><line x1="1209.9" y1="855.8" x2="1216.6" y2="908.1" stroke="#4a8a68" stroke-width="1.3" stroke-dasharray="6 4" opacity="0.7"/><line x1="1208.9" y1="865.2" x2="1199.9" y2="908.1" stroke="#5c9c78" stroke-width="1.0" stroke-dasharray="4 5" opacity="0.5"/><polygon points="1219.1,909.1 1226.5,836.0 1235.4,909.1" fill="#98dfa2" /><polygon points="1228.6,909.1 1226.5,836.0 1235.4,909.1" fill="#7fca92" /><line x1="1227.0" y1="847.0" x2="1234.6" y2="908.1" stroke="#4a8a68" stroke-width="1.3" stroke-dasharray="6 4" opacity="0.7"/><line x1="1226.0" y1="857.9" x2="1219.9" y2="908.1" stroke="#5c9c78" stroke-width="1.0" stroke-dasharray="4 5" opacity="0.5"/><polygon points="1244.2,909.1 1250.9,847.5 1260.8,909.1" fill="#98dfa2" /><polygon points="1253.8,909.1 1250.9,847.5 1260.8,909.1" fill="#7fca92" /><line x1="1251.4" y1="856.8" x2="1259.9" y2="908.1" stroke="#4a8a68" stroke-width="1.3" stroke-dasharray="6 4" opacity="0.7"/><line x1="1250.4" y1="866.0" x2="1245.1" y2="908.1" stroke="#5c9c78" stroke-width="1.0" stroke-dasharray="4 5" opacity="0.5"/><polygon points="1258.8,909.1 1268.0,843.1 1275.1,909.1" fill="#98dfa2" /><polygon points="1268.3,909.1 1268.0,843.1 1275.1,909.1" fill="#7fca92" /><line x1="1268.5" y1="853.0" x2="1274.3" y2="908.1" stroke="#4a8a68" stroke-width="1.3" stroke-dasharray="6 4" opacity="0.7"/><line x1="1267.5" y1="862.9" x2="1259.6" y2="908.1" stroke="#5c9c78" stroke-width="1.0" stroke-dasharray="4 5" opacity="0.5"/><polygon points="1181.9,921.5 1191.8,857.8 1200.8,921.5" fill="#98dfa2" /><polygon points="1192.9,921.5 1191.8,857.8 1200.8,921.5" fill="#7fca92" /><line x1="1192.3" y1="867.3" x2="1199.8" y2="920.5" stroke="#4a8a68" stroke-width="1.3" stroke-dasharray="6 4" opacity="0.7"/><line x1="1191.3" y1="876.9" x2="1182.9" y2="920.5" stroke="#5c9c78" stroke-width="1.0" stroke-dasharray="4 5" opacity="0.5"/><polygon points="1205.1,921.5 1211.9,850.6 1221.2,921.5" fill="#98dfa2" /><polygon points="1214.5,921.5 1211.9,850.6 1221.2,921.5" fill="#7fca92" /><line x1="1212.4" y1="861.2" x2="1220.4" y2="920.5" stroke="#4a8a68" stroke-width="1.3" stroke-dasharray="6 4" opacity="0.7"/><line x1="1211.4" y1="871.8" x2="1205.9" y2="920.5" stroke="#5c9c78" stroke-width="1.0" stroke-dasharray="4 5" opacity="0.5"/><polygon points="1227.8,921.5 1235.0,851.4 1244.2,921.5" fill="#98dfa2" /><polygon points="1237.3,921.5 1235.0,851.4 1244.2,921.5" fill="#7fca92" /><line x1="1235.5" y1="861.9" x2="1243.4" y2="920.5" stroke="#4a8a68" stroke-width="1.3" stroke-dasharray="6 4" opacity="0.7"/><line x1="1234.5" y1="872.4" x2="1228.7" y2="920.5" stroke="#5c9c78" stroke-width="1.0" stroke-dasharray="4 5" opacity="0.5"/><polygon points="1246.7,921.5 1257.6,849.3 1262.9,921.5" fill="#98dfa2" /><polygon points="1256.1,921.5 1257.6,849.3 1262.9,921.5" fill="#7fca92" /><line x1="1258.1" y1="860.1" x2="1262.1" y2="920.5" stroke="#4a8a68" stroke-width="1.3" stroke-dasharray="6 4" opacity="0.7"/><line x1="1257.1" y1="870.9" x2="1247.6" y2="920.5" stroke="#5c9c78" stroke-width="1.0" stroke-dasharray="4 5" opacity="0.5"/><polygon points="1267.7,921.5 1274.7,855.1 1284.7,921.5" fill="#98dfa2" /><polygon points="1277.5,921.5 1274.7,855.1 1284.7,921.5" fill="#7fca92" /><line x1="1275.2" y1="865.1" x2="1283.8" y2="920.5" stroke="#4a8a68" stroke-width="1.3" stroke-dasharray="6 4" opacity="0.7"/><line x1="1274.2" y1="875.0" x2="1268.5" y2="920.5" stroke="#5c9c78" stroke-width="1.0" stroke-dasharray="4 5" opacity="0.5"/><polygon points="1170.1,933.9 1179.8,861.3 1186.4,933.9" fill="#98dfa2" /><polygon points="1179.6,933.9 1179.8,861.3 1186.4,933.9" fill="#7fca92" /><line x1="1180.3" y1="872.2" x2="1185.6" y2="932.9" stroke="#4a8a68" stroke-width="1.3" stroke-dasharray="6 4" opacity="0.7"/><line x1="1179.3" y1="883.1" x2="1170.9" y2="932.9" stroke="#5c9c78" stroke-width="1.0" stroke-dasharray="4 5" opacity="0.5"/><polygon points="1191.7,933.9 1200.0,863.7 1209.3,933.9" fill="#98dfa2" /><polygon points="1201.9,933.9 1200.0,863.7 1209.3,933.9" fill="#7fca92" /><line x1="1200.5" y1="874.2" x2="1208.4" y2="932.9" stroke="#4a8a68" stroke-width="1.3" stroke-dasharray="6 4" opacity="0.7"/><line x1="1199.5" y1="884.8" x2="1192.6" y2="932.9" stroke="#5c9c78" stroke-width="1.0" stroke-dasharray="4 5" opacity="0.5"/><polygon points="1212.4,933.9 1219.4,865.5 1228.1,933.9" fill="#98dfa2" /><polygon points="1221.5,933.9 1219.4,865.5 1228.1,933.9" fill="#7fca92" /><line x1="1219.9" y1="875.8" x2="1227.4" y2="932.9" stroke="#4a8a68" stroke-width="1.3" stroke-dasharray="6 4" opacity="0.7"/><line x1="1218.9" y1="886.0" x2="1213.2" y2="932.9" stroke="#5c9c78" stroke-width="1.0" stroke-dasharray="4 5" opacity="0.5"/><polygon points="1235.0,933.9 1243.3,863.2 1252.7,933.9" fill="#98dfa2" /><polygon points="1245.3,933.9 1243.3,863.2 1252.7,933.9" fill="#7fca92" /><line x1="1243.8" y1="873.8" x2="1251.8" y2="932.9" stroke="#4a8a68" stroke-width="1.3" stroke-dasharray="6 4" opacity="0.7"/><line x1="1242.8" y1="884.4" x2="1235.9" y2="932.9" stroke="#5c9c78" stroke-width="1.0" stroke-dasharray="4 5" opacity="0.5"/><polygon points="1259.5,933.9 1266.6,874.5 1275.0,933.9" fill="#98dfa2" /><polygon points="1268.5,933.9 1266.6,874.5 1275.0,933.9" fill="#7fca92" /><line x1="1267.1" y1="883.4" x2="1274.3" y2="932.9" stroke="#4a8a68" stroke-width="1.3" stroke-dasharray="6 4" opacity="0.7"/><line x1="1266.1" y1="892.3" x2="1260.3" y2="932.9" stroke="#5c9c78" stroke-width="1.0" stroke-dasharray="4 5" opacity="0.5"/></g>
<polygon points="1195.0,815.0 1203.5,764.0 1211.0,815.0" fill="#98dfa2" />
<polygon points="1204.6,815.0 1203.5,764.0 1211.0,815.0" fill="#7fca92" />
<polygon points="1270.5,820.0 1278.5,773.0 1285.5,820.0" fill="#98dfa2" />
<polygon points="1279.5,820.0 1278.5,773.0 1285.5,820.0" fill="#7fca92" />
<polygon points="1220.5,830.0 1228.0,790.0 1233.5,830.0" fill="#98dfa2" />
<polygon points="1228.3,830.0 1228.0,790.0 1233.5,830.0" fill="#7fca92" />
<polygon points="1247.5,830.0 1254.0,792.0 1260.5,830.0" fill="#98dfa2" />
<polygon points="1255.3,830.0 1254.0,792.0 1260.5,830.0" fill="#7fca92" />
<rect x="1155.8" y="933.9" width="133.4000000000001" height="19.5" fill="#f47a20"/>
<rect x="1155.8" y="952.9" width="133.4000000000001" height="10.899999999999977" fill="#f8a12c"/>
<rect x="1155.8" y="963.3" width="133.4000000000001" height="10.800000000000068" fill="#9cdea0"/>
<rect x="1648.3" y="919.7" width="118.79999999999995" height="15.599999999999909" fill="#f47a20"/>
<rect x="1648.3" y="934.8" width="118.79999999999995" height="9.800000000000068" fill="#f8a12c"/>
<polygon points="1646.3,921.7 1649.3,919.7 1661.8,1069.0 1659.3,1106.2" fill="#203a34" />
<polygon points="1648.3,944.1 1767.1,944.1 1788.0,1069.0 1660.8,1069.0" fill="#79b98a" />
<g><polygon points="1661.5,989.1 1669.2,926.1 1680.1,989.1" fill="#98dfa2" /><polygon points="1672.3,989.1 1669.2,926.1 1680.1,989.1" fill="#7fca92" /><line x1="1669.7" y1="935.5" x2="1679.2" y2="988.1" stroke="#4a8a68" stroke-width="1.3" stroke-dasharray="6 4" opacity="0.7"/><line x1="1668.7" y1="945.0" x2="1662.4" y2="988.1" stroke="#5c9c78" stroke-width="1.0" stroke-dasharray="4 5" opacity="0.5"/><polygon points="1678.3,989.1 1685.6,926.1 1695.6,989.1" fill="#98dfa2" /><polygon points="1688.3,989.1 1685.6,926.1 1695.6,989.1" fill="#7fca92" /><line x1="1686.1" y1="935.5" x2="1694.8" y2="988.1" stroke="#4a8a68" stroke-width="1.3" stroke-dasharray="6 4" opacity="0.7"/><line x1="1685.1" y1="945.0" x2="1679.1" y2="988.1" stroke="#5c9c78" stroke-width="1.0" stroke-dasharray="4 5" opacity="0.5"/><polygon points="1694.5,989.1 1702.9,926.1 1710.7,989.1" fill="#98dfa2" /><polygon points="1703.9,989.1 1702.9,926.1 1710.7,989.1" fill="#7fca92" /><line x1="1703.4" y1="935.5" x2="1709.9" y2="988.1" stroke="#4a8a68" stroke-width="1.3" stroke-dasharray="6 4" opacity="0.7"/><line x1="1702.4" y1="945.0" x2="1695.3" y2="988.1" stroke="#5c9c78" stroke-width="1.0" stroke-dasharray="4 5" opacity="0.5"/><polygon points="1711.0,989.1 1720.1,927.5 1729.0,989.1" fill="#98dfa2" /><polygon points="1721.4,989.1 1720.1,927.5 1729.0,989.1" fill="#7fca92" /><line x1="1720.6" y1="936.7" x2="1728.1" y2="988.1" stroke="#4a8a68" stroke-width="1.3" stroke-dasharray="6 4" opacity="0.7"/><line x1="1719.6" y1="946.0" x2="1711.9" y2="988.1" stroke="#5c9c78" stroke-width="1.0" stroke-dasharray="4 5" opacity="0.5"/><polygon points="1733.9,989.1 1740.6,926.1 1750.7,989.1" fill="#98dfa2" /><polygon points="1743.6,989.1 1740.6,926.1 1750.7,989.1" fill="#7fca92" /><line x1="1741.1" y1="935.5" x2="1749.8" y2="988.1" stroke="#4a8a68" stroke-width="1.3" stroke-dasharray="6 4" opacity="0.7"/><line x1="1740.1" y1="945.0" x2="1734.7" y2="988.1" stroke="#5c9c78" stroke-width="1.0" stroke-dasharray="4 5" opacity="0.5"/><polygon points="1668.7,1002.4 1678.8,940.1 1686.6,1002.4" fill="#98dfa2" /><polygon points="1679.1,1002.4 1678.8,940.1 1686.6,1002.4" fill="#7fca92" /><line x1="1679.3" y1="949.4" x2="1685.7" y2="1001.4" stroke="#4a8a68" stroke-width="1.3" stroke-dasharray="6 4" opacity="0.7"/><line x1="1678.3" y1="958.8" x2="1669.6" y2="1001.4" stroke="#5c9c78" stroke-width="1.0" stroke-dasharray="4 5" opacity="0.5"/><polygon points="1688.9,1002.4 1697.8,940.1 1707.1,1002.4" fill="#98dfa2" /><polygon points="1699.4,1002.4 1697.8,940.1 1707.1,1002.4" fill="#7fca92" /><line x1="1698.3" y1="949.4" x2="1706.1" y2="1001.4" stroke="#4a8a68" stroke-width="1.3" stroke-dasharray="6 4" opacity="0.7"/><line x1="1697.3" y1="958.8" x2="1689.8" y2="1001.4" stroke="#5c9c78" stroke-width="1.0" stroke-dasharray="4 5" opacity="0.5"/><polygon points="1705.6,1002.4 1712.3,940.1 1722.2,1002.4" fill="#98dfa2" /><polygon points="1715.2,1002.4 1712.3,940.1 1722.2,1002.4" fill="#7fca92" /><line x1="1712.8" y1="949.4" x2="1721.3" y2="1001.4" stroke="#4a8a68" stroke-width="1.3" stroke-dasharray="6 4" opacity="0.7"/><line x1="1711.8" y1="958.8" x2="1706.4" y2="1001.4" stroke="#5c9c78" stroke-width="1.0" stroke-dasharray="4 5" opacity="0.5"/><polygon points="1723.2,1002.4 1732.3,940.1 1740.8,1002.4" fill="#98dfa2" /><polygon points="1733.4,1002.4 1732.3,940.1 1740.8,1002.4" fill="#7fca92" /><line x1="1732.8" y1="949.4" x2="1739.9" y2="1001.4" stroke="#4a8a68" stroke-width="1.3" stroke-dasharray="6 4" opacity="0.7"/><line x1="1731.8" y1="958.8" x2="1724.1" y2="1001.4" stroke="#5c9c78" stroke-width="1.0" stroke-dasharray="4 5" opacity="0.5"/><polygon points="1744.1,1002.4 1751.8,940.1 1760.3,1002.4" fill="#98dfa2" /><polygon points="1753.5,1002.4 1751.8,940.1 1760.3,1002.4" fill="#7fca92" /><line x1="1752.3" y1="949.4" x2="1759.5" y2="1001.4" stroke="#4a8a68" stroke-width="1.3" stroke-dasharray="6 4" opacity="0.7"/><line x1="1751.3" y1="958.8" x2="1745.0" y2="1001.4" stroke="#5c9c78" stroke-width="1.0" stroke-dasharray="4 5" opacity="0.5"/><polygon points="1666.5,1015.7 1673.0,952.1 1682.4,1015.7" fill="#98dfa2" /><polygon points="1675.7,1015.7 1673.0,952.1 1682.4,1015.7" fill="#7fca92" /><line x1="1673.5" y1="961.6" x2="1681.6" y2="1014.7" stroke="#4a8a68" stroke-width="1.3" stroke-dasharray="6 4" opacity="0.7"/><line x1="1672.5" y1="971.2" x2="1667.3" y2="1014.7" stroke="#5c9c78" stroke-width="1.0" stroke-dasharray="4 5" opacity="0.5"/><polygon points="1678.9,1015.7 1689.8,950.6 1696.4,1015.7" fill="#98dfa2" /><polygon points="1689.1,1015.7 1689.8,950.6 1696.4,1015.7" fill="#7fca92" /><line x1="1690.3" y1="960.4" x2="1695.6" y2="1014.7" stroke="#4a8a68" stroke-width="1.3" stroke-dasharray="6 4" opacity="0.7"/><line x1="1689.3" y1="970.1" x2="1679.8" y2="1014.7" stroke="#5c9c78" stroke-width="1.0" stroke-dasharray="4 5" opacity="0.5"/><polygon points="1700.8,1015.7 1708.6,948.8 1717.3,1015.7" fill="#98dfa2" /><polygon points="1710.4,1015.7 1708.6,948.8 1717.3,1015.7" fill="#7fca92" /><line x1="1709.1" y1="958.9" x2="1716.5" y2="1014.7" stroke="#4a8a68" stroke-width="1.3" stroke-dasharray="6 4" opacity="0.7"/><line x1="1708.1" y1="968.9" x2="1701.7" y2="1014.7" stroke="#5c9c78" stroke-width="1.0" stroke-dasharray="4 5" opacity="0.5"/><polygon points="1723.5,1015.7 1730.2,945.5 1739.9,1015.7" fill="#98dfa2" /><polygon points="1733.0,1015.7 1730.2,945.5 1739.9,1015.7" fill="#7fca92" /><line x1="1730.7" y1="956.0" x2="1739.1" y2="1014.7" stroke="#4a8a68" stroke-width="1.3" stroke-dasharray="6 4" opacity="0.7"/><line x1="1729.7" y1="966.5" x2="1724.3" y2="1014.7" stroke="#5c9c78" stroke-width="1.0" stroke-dasharray="4 5" opacity="0.5"/><polygon points="1741.7,1015.7 1750.1,942.5 1760.1,1015.7" fill="#98dfa2" /><polygon points="1752.4,1015.7 1750.1,942.5 1760.1,1015.7" fill="#7fca92" /><line x1="1750.6" y1="953.5" x2="1759.2" y2="1014.7" stroke="#4a8a68" stroke-width="1.3" stroke-dasharray="6 4" opacity="0.7"/><line x1="1749.6" y1="964.5" x2="1742.6" y2="1014.7" stroke="#5c9c78" stroke-width="1.0" stroke-dasharray="4 5" opacity="0.5"/><polygon points="1671.7,1029.0 1683.2,951.9 1689.2,1029.0" fill="#98dfa2" /><polygon points="1681.9,1029.0 1683.2,951.9 1689.2,1029.0" fill="#7fca92" /><line x1="1683.7" y1="963.4" x2="1688.4" y2="1028.0" stroke="#4a8a68" stroke-width="1.3" stroke-dasharray="6 4" opacity="0.7"/><line x1="1682.7" y1="975.0" x2="1672.5" y2="1028.0" stroke="#5c9c78" stroke-width="1.0" stroke-dasharray="4 5" opacity="0.5"/><polygon points="1689.1,1029.0 1697.0,950.8 1704.8,1029.0" fill="#98dfa2" /><polygon points="1698.2,1029.0 1697.0,950.8 1704.8,1029.0" fill="#7fca92" /><line x1="1697.5" y1="962.5" x2="1704.0" y2="1028.0" stroke="#4a8a68" stroke-width="1.3" stroke-dasharray="6 4" opacity="0.7"/><line x1="1696.5" y1="974.3" x2="1689.9" y2="1028.0" stroke="#5c9c78" stroke-width="1.0" stroke-dasharray="4 5" opacity="0.5"/><polygon points="1706.3,1029.0 1718.1,953.9 1724.2,1029.0" fill="#98dfa2" /><polygon points="1716.7,1029.0 1718.1,953.9 1724.2,1029.0" fill="#7fca92" /><line x1="1718.6" y1="965.2" x2="1723.3" y2="1028.0" stroke="#4a8a68" stroke-width="1.3" stroke-dasharray="6 4" opacity="0.7"/><line x1="1717.6" y1="976.4" x2="1707.2" y2="1028.0" stroke="#5c9c78" stroke-width="1.0" stroke-dasharray="4 5" opacity="0.5"/><polygon points="1732.1,1029.0 1743.7,951.3 1749.5,1029.0" fill="#98dfa2" /><polygon points="1742.2,1029.0 1743.7,951.3 1749.5,1029.0" fill="#7fca92" /><line x1="1744.2" y1="963.0" x2="1748.6" y2="1028.0" stroke="#4a8a68" stroke-width="1.3" stroke-dasharray="6 4" opacity="0.7"/><line x1="1743.2" y1="974.6" x2="1732.9" y2="1028.0" stroke="#5c9c78" stroke-width="1.0" stroke-dasharray="4 5" opacity="0.5"/><polygon points="1750.3,1029.0 1759.7,962.6 1769.2,1029.0" fill="#98dfa2" /><polygon points="1761.3,1029.0 1759.7,962.6 1769.2,1029.0" fill="#7fca92" /><line x1="1760.2" y1="972.6" x2="1768.3" y2="1028.0" stroke="#4a8a68" stroke-width="1.3" stroke-dasharray="6 4" opacity="0.7"/><line x1="1759.2" y1="982.5" x2="1751.3" y2="1028.0" stroke="#5c9c78" stroke-width="1.0" stroke-dasharray="4 5" opacity="0.5"/><polygon points="1665.5,1042.4 1673.0,981.0 1682.6,1042.4" fill="#98dfa2" /><polygon points="1675.4,1042.4 1673.0,981.0 1682.6,1042.4" fill="#7fca92" /><line x1="1673.5" y1="990.2" x2="1681.8" y2="1041.4" stroke="#4a8a68" stroke-width="1.3" stroke-dasharray="6 4" opacity="0.7"/><line x1="1672.5" y1="999.4" x2="1666.4" y2="1041.4" stroke="#5c9c78" stroke-width="1.0" stroke-dasharray="4 5" opacity="0.5"/><polygon points="1691.5,1042.4 1698.1,964.6 1707.7,1042.4" fill="#98dfa2" /><polygon points="1700.9,1042.4 1698.1,964.6 1707.7,1042.4" fill="#7fca92" /><line x1="1698.6" y1="976.3" x2="1706.9" y2="1041.4" stroke="#4a8a68" stroke-width="1.3" stroke-dasharray="6 4" opacity="0.7"/><line x1="1697.6" y1="987.9" x2="1692.3" y2="1041.4" stroke="#5c9c78" stroke-width="1.0" stroke-dasharray="4 5" opacity="0.5"/><polygon points="1707.4,1042.4 1718.2,979.2 1724.8,1042.4" fill="#98dfa2" /><polygon points="1717.5,1042.4 1718.2,979.2 1724.8,1042.4" fill="#7fca92" /><line x1="1718.7" y1="988.7" x2="1723.9" y2="1041.4" stroke="#4a8a68" stroke-width="1.3" stroke-dasharray="6 4" opacity="0.7"/><line x1="1717.7" y1="998.2" x2="1708.3" y2="1041.4" stroke="#5c9c78" stroke-width="1.0" stroke-dasharray="4 5" opacity="0.5"/><polygon points="1724.3,1042.4 1733.9,974.5 1743.0,1042.4" fill="#98dfa2" /><polygon points="1735.1,1042.4 1733.9,974.5 1743.0,1042.4" fill="#7fca92" /><line x1="1734.4" y1="984.7" x2="1742.0" y2="1041.4" stroke="#4a8a68" stroke-width="1.3" stroke-dasharray="6 4" opacity="0.7"/><line x1="1733.4" y1="994.9" x2="1725.2" y2="1041.4" stroke="#5c9c78" stroke-width="1.0" stroke-dasharray="4 5" opacity="0.5"/><polygon points="1744.9,1042.4 1756.5,965.7 1763.2,1042.4" fill="#98dfa2" /><polygon points="1755.5,1042.4 1756.5,965.7 1763.2,1042.4" fill="#7fca92" /><line x1="1757.0" y1="977.2" x2="1762.3" y2="1041.4" stroke="#4a8a68" stroke-width="1.3" stroke-dasharray="6 4" opacity="0.7"/><line x1="1756.0" y1="988.7" x2="1745.8" y2="1041.4" stroke="#5c9c78" stroke-width="1.0" stroke-dasharray="4 5" opacity="0.5"/><polygon points="1677.2,1055.7 1688.3,988.0 1695.1,1055.7" fill="#98dfa2" /><polygon points="1687.6,1055.7 1688.3,988.0 1695.1,1055.7" fill="#7fca92" /><line x1="1688.8" y1="998.1" x2="1694.3" y2="1054.7" stroke="#4a8a68" stroke-width="1.3" stroke-dasharray="6 4" opacity="0.7"/><line x1="1687.8" y1="1008.3" x2="1678.1" y2="1054.7" stroke="#5c9c78" stroke-width="1.0" stroke-dasharray="4 5" opacity="0.5"/><polygon points="1697.5,1055.7 1705.8,991.3 1714.0,1055.7" fill="#98dfa2" /><polygon points="1707.1,1055.7 1705.8,991.3 1714.0,1055.7" fill="#7fca92" /><line x1="1706.3" y1="1000.9" x2="1713.2" y2="1054.7" stroke="#4a8a68" stroke-width="1.3" stroke-dasharray="6 4" opacity="0.7"/><line x1="1705.3" y1="1010.6" x2="1698.3" y2="1054.7" stroke="#5c9c78" stroke-width="1.0" stroke-dasharray="4 5" opacity="0.5"/><polygon points="1718.1,1055.7 1728.9,985.3 1735.5,1055.7" fill="#98dfa2" /><polygon points="1728.2,1055.7 1728.9,985.3 1735.5,1055.7" fill="#7fca92" /><line x1="1729.4" y1="995.8" x2="1734.6" y2="1054.7" stroke="#4a8a68" stroke-width="1.3" stroke-dasharray="6 4" opacity="0.7"/><line x1="1728.4" y1="1006.4" x2="1718.9" y2="1054.7" stroke="#5c9c78" stroke-width="1.0" stroke-dasharray="4 5" opacity="0.5"/><polygon points="1733.1,1055.7 1742.2,983.9 1749.8,1055.7" fill="#98dfa2" /><polygon points="1742.8,1055.7 1742.2,983.9 1749.8,1055.7" fill="#7fca92" /><line x1="1742.7" y1="994.7" x2="1748.9" y2="1054.7" stroke="#4a8a68" stroke-width="1.3" stroke-dasharray="6 4" opacity="0.7"/><line x1="1741.7" y1="1005.4" x2="1733.9" y2="1054.7" stroke="#5c9c78" stroke-width="1.0" stroke-dasharray="4 5" opacity="0.5"/><polygon points="1757.8,1055.7 1765.6,991.1 1776.6,1055.7" fill="#98dfa2" /><polygon points="1768.7,1055.7 1765.6,991.1 1776.6,1055.7" fill="#7fca92" /><line x1="1766.1" y1="1000.8" x2="1775.7" y2="1054.7" stroke="#4a8a68" stroke-width="1.3" stroke-dasharray="6 4" opacity="0.7"/><line x1="1765.1" y1="1010.5" x2="1758.7" y2="1054.7" stroke="#5c9c78" stroke-width="1.0" stroke-dasharray="4 5" opacity="0.5"/><polygon points="1673.3,1069.0 1682.2,998.9 1689.6,1069.0" fill="#98dfa2" /><polygon points="1682.7,1069.0 1682.2,998.9 1689.6,1069.0" fill="#7fca92" /><line x1="1682.7" y1="1009.4" x2="1688.8" y2="1068.0" stroke="#4a8a68" stroke-width="1.3" stroke-dasharray="6 4" opacity="0.7"/><line x1="1681.7" y1="1019.9" x2="1674.1" y2="1068.0" stroke="#5c9c78" stroke-width="1.0" stroke-dasharray="4 5" opacity="0.5"/><polygon points="1691.9,1069.0 1698.9,1000.6 1709.9,1069.0" fill="#98dfa2" /><polygon points="1702.3,1069.0 1698.9,1000.6 1709.9,1069.0" fill="#7fca92" /><line x1="1699.4" y1="1010.9" x2="1709.0" y2="1068.0" stroke="#4a8a68" stroke-width="1.3" stroke-dasharray="6 4" opacity="0.7"/><line x1="1698.4" y1="1021.1" x2="1692.8" y2="1068.0" stroke="#5c9c78" stroke-width="1.0" stroke-dasharray="4 5" opacity="0.5"/><polygon points="1712.4,1069.0 1722.7,994.3 1728.4,1069.0" fill="#98dfa2" /><polygon points="1721.7,1069.0 1722.7,994.3 1728.4,1069.0" fill="#7fca92" /><line x1="1723.2" y1="1005.5" x2="1727.6" y2="1068.0" stroke="#4a8a68" stroke-width="1.3" stroke-dasharray="6 4" opacity="0.7"/><line x1="1722.2" y1="1016.7" x2="1713.2" y2="1068.0" stroke="#5c9c78" stroke-width="1.0" stroke-dasharray="4 5" opacity="0.5"/><polygon points="1731.1,1069.0 1739.4,996.3 1747.2,1069.0" fill="#98dfa2" /><polygon points="1740.5,1069.0 1739.4,996.3 1747.2,1069.0" fill="#7fca92" /><line x1="1739.9" y1="1007.2" x2="1746.4" y2="1068.0" stroke="#4a8a68" stroke-width="1.3" stroke-dasharray="6 4" opacity="0.7"/><line x1="1738.9" y1="1018.1" x2="1731.9" y2="1068.0" stroke="#5c9c78" stroke-width="1.0" stroke-dasharray="4 5" opacity="0.5"/><polygon points="1752.2,1069.0 1761.6,1007.5 1770.2,1069.0" fill="#98dfa2" /><polygon points="1762.6,1069.0 1761.6,1007.5 1770.2,1069.0" fill="#7fca92" /><line x1="1762.1" y1="1016.7" x2="1769.3" y2="1068.0" stroke="#4a8a68" stroke-width="1.3" stroke-dasharray="6 4" opacity="0.7"/><line x1="1761.1" y1="1026.0" x2="1753.1" y2="1068.0" stroke="#5c9c78" stroke-width="1.0" stroke-dasharray="4 5" opacity="0.5"/></g>
<polygon points="1665.0,950.0 1673.0,899.0 1679.0,950.0" fill="#98dfa2" />
<polygon points="1673.4,950.0 1673.0,899.0 1679.0,950.0" fill="#7fca92" />
<polygon points="1690.0,950.0 1697.5,896.0 1704.0,950.0" fill="#98dfa2" />
<polygon points="1698.4,950.0 1697.5,896.0 1704.0,950.0" fill="#7fca92" />
<polygon points="1714.5,950.0 1722.0,904.0 1727.5,950.0" fill="#98dfa2" />
<polygon points="1722.3,950.0 1722.0,904.0 1727.5,950.0" fill="#7fca92" />
<polygon points="1739.0,950.0 1746.5,904.0 1753.0,950.0" fill="#98dfa2" />
<polygon points="1747.4,950.0 1746.5,904.0 1753.0,950.0" fill="#7fca92" />
<rect x="1660.8" y="1069" width="127.20000000000005" height="19.59999999999991" fill="#f47a20"/>
<rect x="1660.8" y="1088.1" width="127.20000000000005" height="10.5" fill="#f8a12c"/>
<rect x="1660.8" y="1098.1" width="127.20000000000005" height="11.100000000000136" fill="#9cdea0"/>
<path fill="#d9edd0" d="M1.5,103.5 A106 106 0 0 1 107.5,-2.5 L1601.5,-2.5 A106 106 0 0 1 1707.5,103.5 L1707.5,550 A106 106 0 0 1 1601.5,656 L1580,656 L1305,731 L1242,817 L1194.5,713.2 L859,656 L107.5,656 A106 106 0 0 1 1.5,550 Z"/>
<path fill="#e4f6f9" d="M1747.5,104 A106 106 0 0 1 1853.5,-2 L3044,-2 A106 106 0 0 1 3150,104 L3150,547 A106 106 0 0 1 3044,653 L2447.7,653 L2251,689.5 L2205.6,946 L2165.8,682.5 L2042,653 L1853.5,653 A106 106 0 0 1 1747.5,547 Z"/>
<path fill="#96cf80" d="M223,432 L267,432 L259,436 C264,426 272,418 282,412 L262,412 C254,418 247,425 243,433 Z" opacity="0"/>
<path fill="#96cf80" d="M223.5,431.5 L242,449.5 L267,431.5 L256,431.5 C259,424 264,419 270,414 L252,414 C246,419 241,425 238.5,431.5 Z"/>
<path fill="#96cf80" d="M391.5,449.5 L410,449.5 C410,436 402,424 392,414 L378,414 C386,424 391.5,436 391.5,449.5 Z"/>
<path fill="#7fb574" d="M396,446 L404,446 C403,436 398,426 390,417 L385,417 C392,426 396,436 396,446 Z"/>
<polygon points="168.0,399.0 470.0,399.0 353.5,418.0 280.0,418.0" fill="url(#coneg)" />
<path fill="url(#colg)" d="M280,417 H353.5 V530 A36.75 11.5 0 0 1 280,530 Z"/>
<path fill="#96cf80" d="M232,467.5 L250,467.5 C252,497 282,518 316,518 C346,518 372,505 386,482.5 L374.5,482.5 L397.5,467 L417,482.5 L405,484 C388,512 356,526.5 316,526.5 C270,526.5 234,502 232,467.5 Z"/>
<path fill="#7fb574" d="M236,471 L244,471 C248,496 268,512 292,518 C262,514 240,496 236,471 Z"/>
<rect x="102" y="377" width="441" height="23.5" fill="url(#slabg)"/>
<rect x="102" y="370.5" width="441" height="7.5" fill="#94c93d"/>
<polygon points="154.5,288.3 474.5,288.3 543.0,371.5 102.0,371.5" fill="#4a6630" />
<ellipse cx="318.5" cy="328" rx="147" ry="33" fill="#5bcf96"/>
<ellipse cx="318.5" cy="325.5" rx="146" ry="31.5" fill="url(#discg)"/>
<path fill="#6fd6a8" d="M326.5,313 C330,320 332,326 332,331 C332,336 329.5,341 326.5,341 C323.5,341 321,336 321,331 C321,326 323,320 326.5,313 Z"/>
<path fill="#7fd9ae" d="M264,237 C272,242 279,249 279,255 C279,260 275,262 271,261 C266,260 264,255 264,249 Z"/>
<path fill="#7fd9ae" d="M296,272 C303,277 309,285 310,291 L300,292 C297,286 296,280 296,272 Z"/>
<g transform="translate(165.5,62) rotate(-28.9)"><path fill="url(#tubeg)" d="M-7,40 H7 V133 L1.5,173 H-1.5 L-7,133 Z"/><rect x="-7" y="131" width="14" height="3" fill="#c9a24a"/><path fill="#d8a048" d="M-2,166 H2 L1.2,174 H-1.2 Z"/><path fill="#8a161e" d="M-8,26 L-25,40 L-23,43 L23,43 L25,40 L8,26 Z"/><path fill="url(#bulbg)" d="M-9,8 A9 8.5 0 0 1 9,8 L8,29 L22,40 H-22 L-8,29 Z"/><rect x="-8" y="40" width="16" height="3.5" fill="#d9b070"/></g>
<path d="M629.5,323 L609.5,323 L645.5,361 L687.5,323 L665.5,323 L665.5,323 A82.5 119.3 0 0 1 830.5,323 L866.5,323 A118.5 155 0 0 0 629.5,323 Z" fill="#c6ebf2" stroke="#b5d3ec" stroke-width="3" stroke-linejoin="round"/>
<path d="M1149.1,323 L1169.1,323 L1132.1,361 L1091.1,323 L1113.1,323 L1113.1,323 A82.5 119.3 0 0 0 948.1,323 L912.1,323 A118.5 155 0 0 1 1149.1,323 Z" fill="#c6ebf2" stroke="#b5d3ec" stroke-width="3" stroke-linejoin="round"/>
<polygon points="693.4,350.5 713.5,390.7 713.5,498.5 697.4,434.5" fill="#0c0f10" />
<polygon points="693.4,350.5 712.0,347.5 735.0,386.0 713.5,391.0" fill="#141a18" />
<polygon points="712.0,347.5 1096.0,370.0 1097.0,381.0 733.0,389.0" fill="#2f6b4f" />
<polygon points="718.0,370.0 1097.0,369.0 1097.0,381.5 733.0,389.5" fill="url(#rimg)" />
<polygon points="1097.0,369.0 1104.0,373.5 1124.6,380.7 1097.0,381.5" fill="#0d1112" />
<g><polygon points="717.5,352.0 1088.0,368.0 1088.0,373.0 735.0,384.0" fill="#43bd4e" /><polygon points="737.9,372.0 743.2,298.7 775.1,372.0" fill="#6f9f26" /><polygon points="765.9,371.8 770.8,300.7 799.2,371.8" fill="#6f9f26" /><polygon points="791.3,371.7 795.7,301.9 821.2,371.7" fill="#6f9f26" /><polygon points="814.4,371.6 818.4,301.2 841.3,371.6" fill="#6f9f26" /><polygon points="835.5,371.4 839.1,301.6 859.8,371.4" fill="#6f9f26" /><polygon points="854.7,371.3 858.1,301.3 876.9,371.3" fill="#6f9f26" /><polygon points="872.5,371.2 875.6,305.5 892.7,371.2" fill="#6f9f26" /><polygon points="888.8,371.1 891.7,303.0 907.3,371.1" fill="#6f9f26" /><polygon points="903.9,371.0 906.6,307.6 920.9,371.0" fill="#6f9f26" /><polygon points="918.0,371.0 920.5,306.2 933.6,371.0" fill="#6f9f26" /><polygon points="931.0,370.9 933.4,307.2 945.5,370.9" fill="#6f9f26" /><polygon points="943.2,370.8 945.5,307.8 956.7,370.8" fill="#6f9f26" /><polygon points="954.7,370.8 956.8,304.8 967.2,370.8" fill="#6f9f26" /><polygon points="965.4,370.7 967.4,307.9 977.1,370.7" fill="#6f9f26" /><polygon points="975.5,370.6 977.4,307.0 986.4,370.6" fill="#6f9f26" /><polygon points="985.0,370.6 986.9,308.5 995.3,370.6" fill="#6f9f26" /><polygon points="994.1,370.5 995.8,307.5 1003.8,370.5" fill="#6f9f26" /><polygon points="1002.6,370.5 1004.3,306.2 1011.8,370.5" fill="#6f9f26" /><polygon points="1010.8,370.4 1012.4,309.6 1019.5,370.4" fill="#6f9f26" /><polygon points="1018.5,370.4 1020.1,308.9 1026.8,370.4" fill="#6f9f26" /><polygon points="1026.0,370.3 1027.5,308.8 1033.9,370.3" fill="#6f9f26" /><polygon points="1033.1,370.3 1034.6,311.6 1040.6,370.3" fill="#6f9f26" /><polygon points="1039.9,370.3 1041.4,309.2 1047.2,370.3" fill="#6f9f26" /><polygon points="1046.5,370.2 1047.9,311.4 1053.5,370.2" fill="#6f9f26" /><polygon points="1052.9,370.2 1054.3,310.7 1059.6,370.2" fill="#6f9f26" /><polygon points="1059.1,370.2 1060.4,311.4 1065.6,370.2" fill="#6f9f26" /><polygon points="1065.0,370.1 1066.4,311.2 1071.4,370.1" fill="#6f9f26" /><polygon points="1070.9,370.1 1072.2,309.5 1077.1,370.1" fill="#6f9f26" /><polygon points="1076.6,370.1 1077.9,309.8 1082.7,370.1" fill="#6f9f26" /><polygon points="1082.2,370.0 1083.5,312.6 1088.2,370.0" fill="#6f9f26" /><polygon points="1084.1,371.5 1085.6,309.9 1087.1,310.4 1092.1,371.5" fill="url(#grassg)" /><line x1="1087.1" y1="311.9" x2="1092.1" y2="371.5" stroke="#4f7d20" stroke-width="1.2" opacity="0.75"/><polygon points="1078.5,371.6 1080.0,310.9 1081.5,311.4 1086.6,371.6" fill="url(#grassg)" /><line x1="1081.5" y1="312.9" x2="1086.6" y2="371.6" stroke="#4f7d20" stroke-width="1.2" opacity="0.75"/><polygon points="1072.9,371.7 1074.4,310.4 1075.9,310.9 1081.0,371.7" fill="url(#grassg)" /><line x1="1075.9" y1="312.4" x2="1081.0" y2="371.7" stroke="#4f7d20" stroke-width="1.2" opacity="0.75"/><polygon points="1067.2,371.9 1068.7,310.2 1070.2,310.7 1075.4,371.9" fill="url(#grassg)" /><line x1="1070.2" y1="312.2" x2="1075.4" y2="371.9" stroke="#4f7d20" stroke-width="1.3" opacity="0.75"/><polygon points="1061.3,372.0 1062.8,309.7 1064.3,310.2 1069.7,372.0" fill="url(#grassg)" /><line x1="1064.3" y1="311.7" x2="1069.7" y2="372.0" stroke="#4f7d20" stroke-width="1.3" opacity="0.75"/><polygon points="1055.2,372.1 1056.7,310.6 1058.2,311.1 1063.8,372.1" fill="url(#grassg)" /><line x1="1058.2" y1="312.6" x2="1063.8" y2="372.1" stroke="#4f7d20" stroke-width="1.3" opacity="0.75"/><polygon points="1049.0,372.2 1050.5,310.8 1052.0,311.3 1057.8,372.2" fill="url(#grassg)" /><line x1="1052.0" y1="312.8" x2="1057.8" y2="372.2" stroke="#4f7d20" stroke-width="1.3" opacity="0.75"/><polygon points="1042.5,372.4 1044.0,309.1 1045.5,309.6 1051.6,372.4" fill="url(#grassg)" /><line x1="1045.5" y1="311.1" x2="1051.6" y2="372.4" stroke="#4f7d20" stroke-width="1.3" opacity="0.75"/><polygon points="1035.8,372.5 1037.3,309.5 1038.8,310.0 1045.2,372.5" fill="url(#grassg)" /><line x1="1038.8" y1="311.5" x2="1045.2" y2="372.5" stroke="#4f7d20" stroke-width="1.4" opacity="0.75"/><polygon points="1028.9,372.7 1030.4,307.5 1031.9,308.0 1038.6,372.7" fill="url(#grassg)" /><line x1="1031.9" y1="309.5" x2="1038.6" y2="372.7" stroke="#4f7d20" stroke-width="1.4" opacity="0.75"/><polygon points="1021.6,372.8 1023.1,309.2 1024.6,309.7 1031.7,372.8" fill="url(#grassg)" /><line x1="1024.6" y1="311.2" x2="1031.7" y2="372.8" stroke="#4f7d20" stroke-width="1.4" opacity="0.75"/><polygon points="1014.1,373.0 1015.6,308.8 1017.1,309.3 1024.6,373.0" fill="url(#grassg)" /><line x1="1017.1" y1="310.8" x2="1024.6" y2="373.0" stroke="#4f7d20" stroke-width="1.4" opacity="0.75"/><polygon points="1006.1,373.1 1007.7,309.6 1009.2,310.1 1017.1,373.1" fill="url(#grassg)" /><line x1="1009.2" y1="311.6" x2="1017.1" y2="373.1" stroke="#4f7d20" stroke-width="1.5" opacity="0.75"/><polygon points="997.8,373.3 999.3,308.8 1000.8,309.3 1009.3,373.3" fill="url(#grassg)" /><line x1="1000.8" y1="310.8" x2="1009.3" y2="373.3" stroke="#4f7d20" stroke-width="1.5" opacity="0.75"/><polygon points="989.0,373.5 990.6,307.0 992.1,307.5 1001.1,373.5" fill="url(#grassg)" /><line x1="992.1" y1="309.0" x2="1001.1" y2="373.5" stroke="#4f7d20" stroke-width="1.5" opacity="0.75"/><polygon points="979.7,373.7 981.3,307.0 982.8,307.5 992.5,373.7" fill="url(#grassg)" /><line x1="982.8" y1="309.0" x2="992.5" y2="373.7" stroke="#4f7d20" stroke-width="1.5" opacity="0.75"/><polygon points="969.9,373.9 971.6,307.5 973.1,308.0 983.5,373.9" fill="url(#grassg)" /><line x1="973.1" y1="309.5" x2="983.5" y2="373.9" stroke="#4f7d20" stroke-width="1.6" opacity="0.75"/><polygon points="959.4,374.1 961.2,305.3 962.7,305.8 973.9,374.1" fill="url(#grassg)" /><line x1="962.7" y1="307.3" x2="973.9" y2="374.1" stroke="#4f7d20" stroke-width="1.6" opacity="0.75"/><polygon points="948.3,374.3 950.2,306.3 951.7,306.8 963.8,374.3" fill="url(#grassg)" /><line x1="951.7" y1="308.3" x2="963.8" y2="374.3" stroke="#4f7d20" stroke-width="1.7" opacity="0.75"/><polygon points="936.5,374.6 938.4,305.0 939.9,305.5 953.0,374.6" fill="url(#grassg)" /><line x1="939.9" y1="307.0" x2="953.0" y2="374.6" stroke="#4f7d20" stroke-width="1.7" opacity="0.75"/><polygon points="923.7,374.8 925.8,304.5 927.3,305.0 941.6,374.8" fill="url(#grassg)" /><line x1="927.3" y1="306.5" x2="941.6" y2="374.8" stroke="#4f7d20" stroke-width="1.7" opacity="0.75"/><polygon points="910.1,375.1 912.3,303.9 913.8,304.4 929.4,375.1" fill="url(#grassg)" /><line x1="913.8" y1="305.9" x2="929.4" y2="375.1" stroke="#4f7d20" stroke-width="1.8" opacity="0.75"/><polygon points="895.4,375.4 897.8,305.6 899.3,306.1 916.3,375.4" fill="url(#grassg)" /><line x1="899.3" y1="307.6" x2="916.3" y2="375.4" stroke="#4f7d20" stroke-width="1.8" opacity="0.75"/><polygon points="879.5,375.7 882.2,303.2 883.7,303.7 902.3,375.7" fill="url(#grassg)" /><line x1="883.7" y1="305.2" x2="902.3" y2="375.7" stroke="#4f7d20" stroke-width="1.9" opacity="0.75"/><polygon points="862.2,376.1 865.2,303.0 866.7,303.5 887.2,376.1" fill="url(#grassg)" /><line x1="866.7" y1="305.0" x2="887.2" y2="376.1" stroke="#4f7d20" stroke-width="1.9" opacity="0.75"/><polygon points="843.4,376.5 846.8,302.9 848.3,303.4 870.9,376.5" fill="url(#grassg)" /><line x1="848.3" y1="304.9" x2="870.9" y2="376.5" stroke="#4f7d20" stroke-width="2.0" opacity="0.75"/><polygon points="823.3,365.1 826.7,303.7 828.7,304.7 853.2,376.9 836.0,376.9" fill="url(#grassg)" /><line x1="828.2" y1="305.7" x2="853.2" y2="376.9" stroke="#4f7d20" stroke-width="2.1" opacity="0.75"/><polygon points="800.7,364.0 804.8,300.7 806.8,301.7 834.0,377.3 815.0,377.3" fill="url(#grassg)" /><line x1="806.3" y1="302.7" x2="834.0" y2="377.3" stroke="#4f7d20" stroke-width="2.1" opacity="0.75"/><polygon points="775.7,362.8 780.6,301.1 782.6,302.1 813.1,377.8 792.0,377.8" fill="url(#grassg)" /><line x1="782.1" y1="303.1" x2="813.1" y2="377.8" stroke="#4f7d20" stroke-width="2.2" opacity="0.75"/><polygon points="748.0,361.5 754.0,300.5 756.0,301.5 790.2,378.4 766.7,378.4" fill="url(#grassg)" /><line x1="755.5" y1="302.5" x2="790.2" y2="378.4" stroke="#4f7d20" stroke-width="2.3" opacity="0.75"/><polygon points="717.2,360.0 724.5,300.7 726.5,301.7 765.0,379.0 738.7,379.0" fill="url(#grassg)" /><line x1="726.0" y1="302.7" x2="765.0" y2="379.0" stroke="#4f7d20" stroke-width="2.4" opacity="0.75"/></g>
<polygon points="713.3,390.7 1125.2,380.7 1123.2,480.2 713.3,498.1" fill="url(#boxf)" />
<line x1="713.3" y1="391.2" x2="1125" y2="381.2" stroke="#e6eeee" stroke-width="1.6" opacity="0.8"/>
<line x1="1124.2" y1="381" x2="1122.6" y2="480" stroke="#3a4b58" stroke-width="2"/>
<polygon points="1178.5,275.6 1199.1,269.8 1398.6,495.7 1382.4,491.1" fill="#3f6f5c" />
<polygon points="1199.1,269.8 1243.6,161.3 1261.1,156.3 1399.4,465.5 1399.4,495.7" fill="url(#plateg)" />
<g transform="translate(1280.4,223.3) rotate(-14.0)"><polygon points="0,-11.6 103.9,0 0,11.6" fill="url(#coneU)"/></g>
<g transform="translate(1270.0,248.5) rotate(-17.7)"><polygon points="0,-13.2 119.6,0 0,13.2" fill="url(#coneU)"/></g>
<g transform="translate(1267.7,278.7) rotate(-18.5)"><polygon points="0,-14.7 124.3,0 0,14.7" fill="url(#coneU)"/></g>
<g transform="translate(1286.3,293.1) rotate(-22.8)"><polygon points="0,-7.8 98.8,0 0,7.8" fill="url(#coneU)"/></g>
<g transform="translate(1266.9,313.6) rotate(-20.2)"><polygon points="0,-14.7 152.8,0 0,14.7" fill="url(#coneU)"/></g>
<g transform="translate(1288.2,337.6) rotate(-22.9)"><polygon points="0,-12.4 137.5,0 0,12.4" fill="url(#coneU)"/></g>
<g transform="translate(1297.9,351.2) rotate(-17.6)"><polygon points="0,-10.9 134.9,0 0,10.9" fill="url(#coneL)"/></g>
<g transform="translate(1311.4,366.7) rotate(-14.7)"><polygon points="0,-10.9 130.2,0 0,10.9" fill="url(#coneL)"/></g>
<g transform="translate(1323.1,383.4) rotate(-18.8)"><polygon points="0,-9.3 129.8,0 0,9.3" fill="url(#coneL)"/></g>
<g transform="translate(1334.7,396.5) rotate(-15.1)"><polygon points="0,-9.3 119.2,0 0,9.3" fill="url(#coneL)"/></g>
<g transform="translate(1346.3,411.3) rotate(-14.6)"><polygon points="0,-8.5 104.5,0 0,8.5" fill="url(#coneL)"/></g>
<g transform="translate(1356.0,422.9) rotate(-13.0)"><polygon points="0,-8.5 100.2,0 0,8.5" fill="url(#coneL)"/></g>
<g transform="translate(1365.7,436.4) rotate(-4.4)"><polygon points="0,-7.8 99.9,0 0,7.8" fill="url(#coneL)"/></g>
<g transform="translate(1375.4,450.0) rotate(1.5)"><polygon points="0,-7.0 88.0,0 0,7.0" fill="url(#coneL)"/></g>
<g transform="translate(1385.1,462.4) rotate(0.0)"><polygon points="0,-5.4 52.3,0 0,5.4" fill="url(#coneL)"/></g>
<g transform="translate(1303.7,357.0) rotate(-17.0)"><polygon points="0,-7.0 119.5,0 0,7.0" fill="url(#coneL)"/></g>
<g transform="translate(1317.3,374.4) rotate(-10.8)"><polygon points="0,-7.0 118.3,0 0,7.0" fill="url(#coneL)"/></g>
<g transform="translate(1328.9,389.9) rotate(-8.8)"><polygon points="0,-6.2 113.7,0 0,6.2" fill="url(#coneL)"/></g>
<g transform="translate(1340.5,404.3) rotate(-5.2)"><polygon points="0,-6.2 114.8,0 0,6.2" fill="url(#coneL)"/></g>
<g transform="translate(1352.1,417.1) rotate(-6.5)"><polygon points="0,-5.8 85.8,0 0,5.8" fill="url(#coneL)"/></g>
<g transform="translate(1361.8,429.9) rotate(-7.5)"><polygon points="0,-5.8 97.7,0 0,5.8" fill="url(#coneL)"/></g>
<g transform="translate(1371.5,443.0) rotate(-3.8)"><polygon points="0,-5.4 69.9,0 0,5.4" fill="url(#coneL)"/></g>
<g transform="translate(1282.4,267.9) rotate(-24.5)"><polygon points="0,-7.0 98.0,0 0,7.0" fill="url(#coneU)"/></g>
<g transform="translate(1278.5,302.8) rotate(-14.9)"><polygon points="0,-7.8 128.3,0 0,7.8" fill="url(#coneU)"/></g>
<polygon points="1407.5,241.5 1463.3,245.4 1428.9,286.5" fill="url(#gcone)" />
<polygon points="1508.4,180.0 1521.6,175.6 1536.2,176.4 1539.1,189.6 1530.4,207.2 1531.1,216.0 1522.3,216.0 1522.3,208.6" fill="#cfd6e6" />
<polygon points="1508.4,180.0 1515.7,179.3 1518.6,194.0 1526.0,207.9 1523.0,208.6 1509.1,195.4" fill="#3f4656" />
<polygon points="1520.1,177.1 1534.7,177.1 1536.9,188.8 1523.0,192.5" fill="#f4f6fb" />
<polygon points="1581.6,208.6 1616.8,200.6 1641.7,243.8 1638.1,252.6 1612.4,265.8 1584.6,220.4" fill="#8795a8" />
<polygon points="1581.6,214.5 1589.0,214.5 1613.9,262.9 1611.7,266.1 1584.6,221.1" fill="#1d222a" />
<polygon points="1571.4,225.5 1578.0,225.5 1569.2,249.7 1562.6,252.2 1569.9,239.4" fill="#7d8a9c" />
<polygon points="1553.8,220.4 1574.3,214.5 1584.6,218.9 1581.6,223.3 1562.6,223.3" fill="#6f7888" />
<polygon points="1487.1,231.3 1611.7,177.8 1623.4,194.0 1571.4,214.5 1489.3,240.1" fill="#fbfcfe" />
<polygon points="1489.3,240.1 1571.4,214.5 1623.4,194.0 1624.2,196.9 1572.9,217.7 1542.1,227.7 1511.3,239.4 1490.8,242.3" fill="#9fb0c4" />
<polygon points="1490.8,239.4 1511.3,236.5 1511.3,239.7 1487.8,243.8" fill="#20252c" />
<polygon points="1472.5,235.0 1485.6,232.1 1488.6,241.6 1479.1,250.4 1474.7,243.8" fill="#a9b6c8" />
<polygon points="1615.4,176.4 1624.2,172.0 1641.7,172.0 1643.9,178.6 1624.2,193.2" fill="#8a9bb2" />
<polygon points="1645.4,171.3 1653.2,172.0 1652.3,179.3 1645.0,178.6" fill="#2a2f3a" />
<polygon points="1609.5,175.6 1613.9,174.9 1614.6,178.6 1610.2,178.6" fill="#15181d" />
<polygon points="1526.0,232.1 1536.2,236.5 1535.5,241.6 1526.7,243.8" fill="#3a4250" />
<polygon points="1624.9,258.5 1635.9,255.5 1641.0,265.8 1635.9,271.6 1628.5,270.9" fill="#2a2f38" />
<polygon points="1630.7,258.5 1635.9,257.0 1640.3,264.3 1636.6,268.7 1632.9,265.8" fill="#e8edf5" />
<polygon points="1825.9,318.0 2130.3,374.5 2118.3,468.0 1846.6,410.3" fill="url(#pfront)" />
<polygon points="1825.9,318.0 1941.3,181.6 2158.1,211.4 2130.3,374.5" fill="url(#ptop)" />
<polygon points="1845.0,307.7 1938.1,196.7 1947.3,204.2 1869.7,310.1" fill="#8088d2" />
<polygon points="1938.1,196.7 2144.2,224.1 2142.2,234.5 1947.3,204.2" fill="#8a92d9" />
<polygon points="1825.9,318.0 1941.3,181.6 1945.3,184.3 1837.8,314.0" fill="#aab0ea" />
<polygon points="1941.3,181.6 2158.1,211.4 2156.1,217.8 1943.3,188.3" fill="#a4aae8" />
<ellipse cx="1966.4" cy="229.3" rx="21.9" ry="11.9" fill="url(#hole)" transform="rotate(6 1966.4 229.3)"/>
<ellipse cx="2028.8" cy="239.2" rx="21.9" ry="11.9" fill="url(#hole)" transform="rotate(6 2028.8 239.2)"/>
<ellipse cx="2093.3" cy="248.0" rx="22.3" ry="12.3" fill="url(#hole)" transform="rotate(6 2093.3 248.0)"/>
<ellipse cx="1943.3" cy="265.1" rx="23.1" ry="13.5" fill="url(#hole)" transform="rotate(6 1943.3 265.1)"/>
<ellipse cx="2010.9" cy="275.1" rx="23.1" ry="13.9" fill="url(#hole)" transform="rotate(6 2010.9 275.1)"/>
<ellipse cx="2081.3" cy="287.0" rx="23.9" ry="14.3" fill="url(#hole)" transform="rotate(6 2081.3 287.0)"/>
<ellipse cx="1917.4" cy="306.9" rx="24.7" ry="15.9" fill="url(#hole)" transform="rotate(6 1917.4 306.9)"/>
<ellipse cx="1989.8" cy="320.8" rx="25.9" ry="16.7" fill="url(#hole)" transform="rotate(6 1989.8 320.8)"/>
<ellipse cx="2066.6" cy="335.5" rx="26.7" ry="17.5" fill="url(#hole)" transform="rotate(6 2066.6 335.5)"/>
<polygon points="1915.4,120.7 1925.4,116.7 1938.1,118.3 1939.7,139.8 1916.6,141.4" fill="#15161a" />
<polygon points="1907.5,139.0 1916.6,131.8 1941.3,133.4 1951.2,129.8 1951.6,165.6 1941.3,175.6 1909.5,171.6" fill="url(#copper)" />
<polygon points="1915.4,120.7 1938.1,119.1 1939.3,132.6 1916.6,134.2" fill="#1b1c21" />
<polygon points="1921.4,123.9 1936.5,123.1 1936.9,127.8 1922.2,128.6" fill="#4a4d57" />
<polygon points="1919.4,172.4 1947.3,170.8 1944.5,181.6 1923.4,182.8" fill="#121316" />
<polygon points="1930.5,181.6 1938.1,181.6 1938.1,215.4 1933.3,217.8 1930.5,207.4" fill="#0c0c0e" />
<polygon points="1933.7,184.3 1936.1,184.3 1936.1,204.2 1933.7,204.2" fill="#d9dde6" />
<polygon points="2255.6,234.1 2437.8,338.8 2634.7,242.4 2471.4,179.6" fill="#8189d7" />
<ellipse cx="2332.3" cy="258.4" rx="21.8" ry="10.1" fill="#6f76c6" transform="rotate(22 2332.3 258.4)"/>
<ellipse cx="2381.3" cy="283.5" rx="23.0" ry="10.9" fill="#6f76c6" transform="rotate(22 2381.3 283.5)"/>
<ellipse cx="2437.8" cy="309.5" rx="25.1" ry="11.7" fill="#6f76c6" transform="rotate(22 2437.8 309.5)"/>
<polygon points="2255.6,234.1 2437.8,338.8 2433.7,466.6 2268.2,334.6" fill="#5c68b6" />
<polygon points="2437.8,338.8 2634.7,242.4 2615.9,347.2 2433.7,466.6" fill="url(#tright)" />
<polygon points="2488.1,211.0 2500.7,181.7 2525.0,209.8 2617.2,245.4 2555.1,268.4 2521.6,284.3 2488.1,259.2" fill="#0c0d0f" />
<polygon points="2320.5,162.8 2492.3,221.5 2521.6,284.3 2471.4,296.9 2324.7,238.2" fill="#0b0c0d" />
<g transform="translate(2357.7,190.1) rotate(19.3)"><path d="M-19.3,0 H19.3 V53.3 A19.3 10.8 0 0 1 -19.3,53.3 Z" fill="url(#cylg)"/></g>
<g transform="translate(2404.6,206.8) rotate(18.7)"><path d="M-19.9,0 H19.9 V57.5 A19.9 11.1 0 0 1 -19.9,57.5 Z" fill="url(#cylg)"/></g>
<g transform="translate(2454.0,225.7) rotate(18.4)"><path d="M-20.5,0 H20.5 V66.2 A20.5 11.5 0 0 1 -20.5,66.2 Z" fill="url(#cylg)"/></g>
<g transform="translate(2512.7,246.6) rotate(14.0)"><path d="M-18.9,0 H18.9 V51.8 A18.9 10.6 0 0 1 -18.9,51.8 Z" fill="url(#cylg)"/></g>
<polygon points="2301.7,144.0 2314.3,126.0 2500.7,181.7 2488.1,213.1" fill="url(#lidg)" />
<polygon points="2301.7,144.0 2488.1,213.1 2492.3,225.7 2324.7,169.1" fill="#0b0c0e" />
<polygon points="2488.1,213.1 2500.7,181.7 2523.7,206.8 2513.3,238.2 2492.3,225.7" fill="#101214" />
<rect x="2732.5" y="152.5" width="328.5" height="330" rx="23" ry="23" fill="url(#magbg)"/>
<ellipse cx="2896.9" cy="316.0" rx="161.3" ry="18.8" fill="#8f9696" opacity="0.55" filter="url(#b3)"/>
<polygon points="2752.4,359.6 2821.5,245.7 3012.0,245.7 3049.7,372.6 3047.6,401.5 2754.5,386.4" fill="#0e0f10" />
<polygon points="2752.4,360.4 3049.7,373.8 3047.6,401.5 2754.5,386.4" fill="#131415" />
<g filter="url(#b1)">
<path d="M2827.3,207.1 A20.9 6.9 0 0 1 2869.2,207.1 L2870.1,258.2 A21.8 7.6 0 0 1 2826.5,258.2 Z" fill="url(#pilg)"/><ellipse cx="2848.3" cy="207.1" rx="20.9" ry="6.9" fill="#141414"/><ellipse cx="2849.3" cy="210.6" rx="10.5" ry="1.4" fill="#b0c0d2" opacity="0.85" filter="url(#b2)"/>
<path d="M2892.3,209.6 A20.9 6.9 0 0 1 2934.1,209.6 L2935.0,260.3 A21.8 7.6 0 0 1 2891.4,260.3 Z" fill="url(#pilg)"/><ellipse cx="2913.2" cy="209.6" rx="20.9" ry="6.9" fill="#141414"/><ellipse cx="2914.2" cy="213.1" rx="10.5" ry="1.4" fill="#b0c0d2" opacity="0.85" filter="url(#b2)"/>
<path d="M2959.3,211.9 A22.2 7.2 0 0 1 3003.7,211.9 L3004.6,262.4 A23.1 7.9 0 0 1 2958.4,262.4 Z" fill="url(#pilg)"/><ellipse cx="2981.5" cy="211.9" rx="22.2" ry="7.2" fill="#141414"/><ellipse cx="2982.6" cy="215.5" rx="11.1" ry="1.4" fill="#b0c0d2" opacity="0.85" filter="url(#b2)"/>
<path d="M2809.3,235.4 A24.3 8.5 0 0 1 2857.9,235.4 L2858.9,300.1 A25.3 9.3 0 0 1 2808.3,300.1 Z" fill="url(#pilg)"/><ellipse cx="2833.6" cy="235.4" rx="24.3" ry="8.5" fill="#141414"/><ellipse cx="2834.8" cy="239.6" rx="12.1" ry="1.7" fill="#b0c0d2" opacity="0.85" filter="url(#b2)"/>
<path d="M2883.5,237.9 A23.5 8.5 0 0 1 2930.4,237.9 L2931.3,302.2 A24.4 9.3 0 0 1 2882.5,302.2 Z" fill="url(#pilg)"/><ellipse cx="2906.9" cy="237.9" rx="23.5" ry="8.5" fill="#141414"/><ellipse cx="2908.1" cy="242.1" rx="11.7" ry="1.7" fill="#b0c0d2" opacity="0.85" filter="url(#b2)"/>
<path d="M2963.9,241.5 A25.1 8.8 0 0 1 3014.1,241.5 L3015.1,304.3 A26.1 9.7 0 0 1 2962.9,304.3 Z" fill="url(#pilg)"/><ellipse cx="2989.0" cy="241.5" rx="25.1" ry="8.8" fill="#141414"/><ellipse cx="2990.3" cy="245.9" rx="12.6" ry="1.8" fill="#b0c0d2" opacity="0.85" filter="url(#b2)"/>
<path d="M2786.3,269.9 A30.2 11.3 0 0 1 2846.6,269.9 L2847.8,337.8 A31.4 12.4 0 0 1 2785.1,337.8 Z" fill="url(#pilg)"/><ellipse cx="2816.4" cy="269.9" rx="30.2" ry="11.3" fill="#141414"/><ellipse cx="2817.9" cy="275.6" rx="15.1" ry="2.3" fill="#b0c0d2" opacity="0.85" filter="url(#b2)"/>
<path d="M2873.8,273.1 A28.1 11.0 0 0 1 2929.9,273.1 L2931.1,341.2 A29.2 12.1 0 0 1 2872.7,341.2 Z" fill="url(#pilg)"/><ellipse cx="2901.9" cy="273.1" rx="28.1" ry="11.0" fill="#141414"/><ellipse cx="2903.3" cy="278.6" rx="14.0" ry="2.2" fill="#b0c0d2" opacity="0.85" filter="url(#b2)"/>
<path d="M2958.0,277.7 A30.2 11.6 0 0 1 3018.3,277.7 L3019.5,344.1 A31.4 12.8 0 0 1 2956.8,344.1 Z" fill="url(#pilg)"/><ellipse cx="2988.2" cy="277.7" rx="30.2" ry="11.6" fill="#141414"/><ellipse cx="2989.7" cy="283.5" rx="15.1" ry="2.3" fill="#b0c0d2" opacity="0.85" filter="url(#b2)"/>
</g>
<g font-family="&quot;Liberation Sans&quot;, sans-serif"><text y="157.2" font-weight="normal" fill="#0d0d0d" stroke="#0d0d0d" stroke-width="2.0" stroke-linejoin="round"><tspan x="35.40" font-size="101" textLength="32.82" lengthAdjust="spacingAndGlyphs">(</tspan><tspan x="71.92" font-size="95" textLength="44.65" lengthAdjust="spacingAndGlyphs">a</tspan><tspan x="126.61" font-size="101" textLength="30.97" lengthAdjust="spacingAndGlyphs">)</tspan></text>
<text y="160.2" font-weight="bold" fill="#0d0d0d"><tspan x="1763.42" font-size="96.5" textLength="24.88" lengthAdjust="spacingAndGlyphs">(</tspan><tspan x="1792.79" font-size="96.5" textLength="55.74" lengthAdjust="spacingAndGlyphs">b</tspan><tspan x="1850.49" font-size="96.5" textLength="27.02" lengthAdjust="spacingAndGlyphs">)</tspan></text>
<text y="807" font-weight="bold" fill="#0d0d0d"><tspan x="449.86" font-size="96" textLength="24.51" lengthAdjust="spacingAndGlyphs">(</tspan><tspan x="479.68" font-size="93" textLength="43.09" lengthAdjust="spacingAndGlyphs">c</tspan><tspan x="526.19" font-size="96" textLength="26.76" lengthAdjust="spacingAndGlyphs">)</tspan></text>
<text stroke="#d9edd0" stroke-width="1.1" transform="translate(114.94,591.40) scale(1.0024,1)" font-size="60" font-weight="normal" fill="#111">Spin Coating</text>
<text stroke="#d9edd0" stroke-width="1.1" transform="translate(585.37,551.80) scale(0.9557,1)" font-size="57" font-weight="normal" fill="#111">Self-assembly Based on</text>
<text stroke="#d9edd0" stroke-width="1.1" transform="translate(692.84,626.50) scale(1.0026,1)" font-size="57" font-weight="normal" fill="#111">Magnetic Field</text>
<text stroke="#d9edd0" stroke-width="1.1" transform="translate(1257.03,591.00) scale(1.0087,1)" font-size="60" font-weight="normal" fill="#111">Spray coating</text>
<text stroke="#e4f6f9" stroke-width="1.1" transform="translate(1780.96,590.60) scale(0.9486,1)" font-size="60" font-weight="normal" fill="#111">Micro Engraving</text>
<text stroke="#e4f6f9" stroke-width="1.1" transform="translate(2239.76,590.60) scale(0.9898,1)" font-size="60" font-weight="normal" fill="#111">Template Method</text>
<text stroke="#e4f6f9" stroke-width="1.1" transform="translate(2741.69,590.60) scale(0.9826,1)" font-size="60" font-weight="normal" fill="#111">Magnetization</text></g>
</svg>
</body></html>
